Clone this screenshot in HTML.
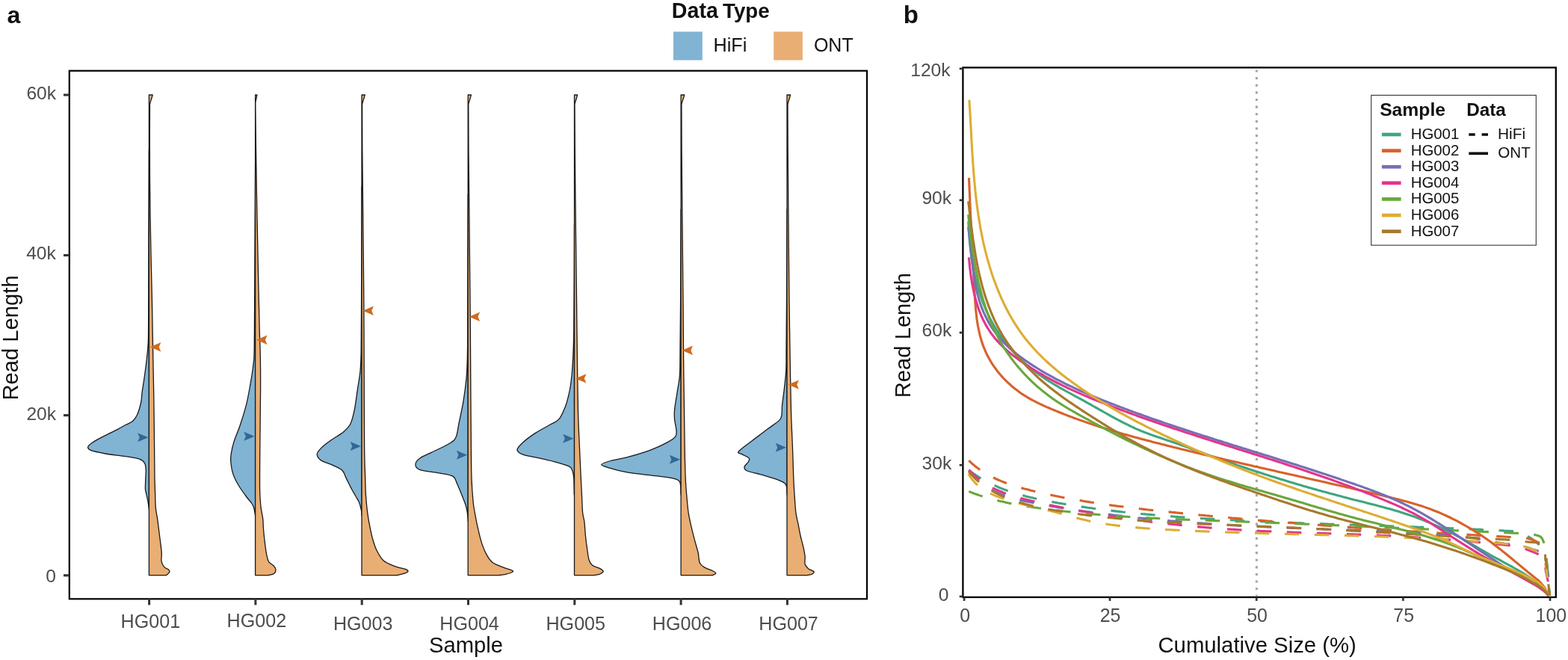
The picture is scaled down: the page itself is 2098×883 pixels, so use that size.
<!DOCTYPE html>
<html><head><meta charset="utf-8"><title>Read length distributions</title>
<style>html,body{margin:0;padding:0;background:#fff;overflow:hidden}svg{display:block}</style>
</head><body>
<svg width="2098" height="883" viewBox="0 0 2098 883" font-family="'Liberation Sans', Arial, Helvetica, sans-serif">
<rect x="0" y="0" width="2098" height="883" fill="#ffffff"/>
<text x="9.44" y="31.30" font-size="32.00" font-weight="bold" fill="#111">a</text>
<text x="898.84" y="24.00" font-size="28.60" font-weight="bold" fill="#111">Data</text>
<text x="967.12" y="24.00" font-size="27.70" font-weight="bold" fill="#111">Type</text>
<rect x="901" y="42.4" width="38.8" height="38.1" fill="#81B3D3"/>
<rect x="1035.2" y="42.4" width="38.7" height="38.1" fill="#E9AE73"/>
<text x="954.58" y="69.30" font-size="25.20" fill="#111">HiFi</text>
<text x="1088.88" y="69.30" font-size="25.00" fill="#111">ONT</text>
<path d="M199.4,200.0 C199.3,221.7 199.0,290.0 198.9,330.0 C198.8,370.0 198.8,417.9 198.6,440.0 C198.4,462.1 198.5,455.1 198.0,462.7 C197.5,470.3 196.6,477.9 195.7,485.5 C194.8,493.1 193.6,501.6 192.7,508.0 C191.8,514.4 190.9,519.0 190.2,524.0 C189.5,529.0 189.8,532.8 188.7,538.0 C187.6,543.2 185.4,550.8 183.5,555.0 C181.6,559.2 180.1,561.2 177.5,563.5 C174.9,565.8 171.3,566.7 168.0,568.5 C164.7,570.3 162.9,571.5 157.5,574.3 C152.1,577.1 141.5,582.2 135.8,585.2 C130.1,588.2 126.1,590.4 123.1,592.5 C120.1,594.6 118.0,596.2 117.7,597.9 C117.4,599.5 117.4,600.9 121.3,602.4 C125.2,603.9 133.3,605.6 141.2,607.0 C149.0,608.4 160.8,609.4 168.4,610.6 C176.0,611.8 182.3,612.7 186.5,614.2 C190.7,615.7 192.1,617.2 193.5,619.6 C194.9,622.0 195.0,625.3 195.2,628.7 C195.4,632.1 194.9,635.9 194.8,640.0 C194.7,644.1 194.3,650.3 194.4,653.6 C194.5,656.9 195.0,657.3 195.6,660.0 C196.2,662.7 197.2,666.7 197.8,670.0 C198.4,673.3 198.9,678.0 199.2,680.0 C199.5,682.0 199.4,681.7 199.4,682.0 Z" fill="#81B3D3" stroke="#1a1a1a" stroke-width="1.3" stroke-linejoin="round"/>
<path d="M199.4,127.0 L204.2,127.0 L203.8,128.5 L200.5,139.0 C200.5,145.8 200.3,161.5 200.3,180.0 C200.3,198.5 200.3,225.0 200.6,250.0 C200.8,275.0 201.3,305.0 201.8,330.0 C202.3,355.0 203.0,381.7 203.4,400.0 C203.8,418.3 203.8,425.0 204.1,440.0 C204.4,455.0 204.7,473.3 205.0,490.0 C205.3,506.7 205.7,523.3 205.9,540.0 C206.2,556.7 206.3,573.3 206.5,590.0 C206.7,606.7 206.8,628.3 207.0,640.0 C207.2,651.7 207.4,653.4 207.6,660.0 C207.8,666.6 207.8,673.5 208.3,679.4 C208.8,685.3 209.9,688.6 210.8,695.2 C211.7,701.8 212.9,711.7 213.8,719.0 C214.7,726.3 215.8,733.6 216.2,738.9 C216.6,744.2 215.4,747.5 216.0,750.8 C216.6,754.1 218.2,756.8 219.8,758.7 C221.4,760.6 224.3,760.9 225.5,762.0 C226.7,763.1 227.2,764.3 226.7,765.5 C226.2,766.7 223.4,768.8 222.7,769.4 L222.7,769.6 L199.4,769.6 Z" fill="#E9AE73" stroke="#1a1a1a" stroke-width="1.3" stroke-linejoin="round"/>
<path d="M198.4,585.3 L184.1,579.3 L186.7,585.3 L184.1,591.3 Z" fill="#306896"/>
<path d="M201.0,464.2 L215.3,458.0 L212.7,464.2 L215.3,470.4 Z" fill="#D06A1E"/>
<path d="M341.6,220.0 C341.5,238.3 341.2,290.0 341.0,330.0 C340.8,370.0 340.6,433.8 340.3,460.0 C340.0,486.2 339.9,478.1 339.0,487.2 C338.1,496.3 336.5,505.3 334.9,514.4 C333.3,523.5 331.8,532.5 329.5,541.6 C327.2,550.7 324.0,560.6 321.3,568.8 C318.6,577.0 315.1,584.2 313.1,590.6 C311.1,597.0 310.0,602.4 309.3,606.9 C308.6,611.4 308.4,613.3 308.8,617.8 C309.2,622.3 310.0,628.6 311.8,634.1 C313.6,639.6 316.7,645.2 319.9,650.5 C323.1,655.8 328.0,662.2 330.8,666.0 C333.6,669.8 335.0,670.8 336.5,673.0 C338.0,675.2 338.8,676.5 339.6,679.0 C340.4,681.5 341.0,686.2 341.3,688.0 C341.6,689.8 341.6,689.7 341.6,690.0 Z" fill="#81B3D3" stroke="#1a1a1a" stroke-width="1.3" stroke-linejoin="round"/>
<path d="M341.6,127.0 L343.9,127.0 L343.6,128.5 L341.8,137.0 C341.9,147.5 342.1,174.5 342.5,200.0 C342.9,225.5 343.4,260.0 344.0,290.0 C344.6,320.0 345.3,355.0 345.8,380.0 C346.3,405.0 346.8,423.3 347.2,440.0 C347.6,456.7 348.2,466.7 348.4,480.0 C348.6,493.3 348.7,500.0 348.6,520.0 C348.5,540.0 348.0,577.5 347.8,600.0 C347.6,622.5 347.4,642.1 347.6,655.1 C347.8,668.1 348.3,671.5 349.0,677.9 C349.7,684.3 351.1,688.7 351.7,693.7 C352.3,698.7 352.1,702.4 352.5,707.7 C352.9,713.0 353.6,719.4 354.3,725.3 C355.0,731.1 356.0,738.4 356.9,742.8 C357.8,747.2 358.1,749.3 359.6,751.6 C361.1,753.9 364.4,755.0 366.0,756.8 C367.6,758.5 368.9,760.3 369.0,762.1 C369.1,763.9 368.2,766.2 366.6,767.4 C365.0,768.6 360.8,769.1 359.6,769.5 L359.6,769.6 L341.6,769.6 Z" fill="#E9AE73" stroke="#1a1a1a" stroke-width="1.3" stroke-linejoin="round"/>
<path d="M340.6,583.8 L326.3,577.8 L328.9,583.8 L326.3,589.8 Z" fill="#306896"/>
<path d="M343.2,454.8 L357.5,448.6 L354.9,454.8 L357.5,461.0 Z" fill="#D06A1E"/>
<path d="M484.0,250.0 C483.9,275.0 483.7,363.3 483.6,400.0 C483.5,436.7 483.5,453.9 483.2,470.0 C482.9,486.1 482.8,487.8 482.0,496.3 C481.2,504.8 479.7,512.2 478.4,520.8 C477.1,529.4 475.9,540.3 474.3,548.0 C472.7,555.7 471.4,562.0 468.9,567.0 C466.4,572.0 463.7,574.3 459.4,577.9 C455.1,581.5 448.1,585.2 443.1,588.8 C438.1,592.4 432.6,596.4 429.5,599.6 C426.4,602.8 424.2,605.1 424.2,607.8 C424.2,610.5 425.9,613.4 429.5,615.9 C433.1,618.4 441.1,620.4 445.8,622.7 C450.6,625.0 455.1,626.5 458.0,629.5 C460.9,632.5 461.4,636.3 463.5,640.4 C465.6,644.5 468.2,650.1 470.3,654.0 C472.4,657.9 474.3,661.0 476.0,664.0 C477.7,667.0 479.3,669.0 480.5,672.0 C481.7,675.0 482.7,679.3 483.3,682.0 C483.9,684.7 483.9,686.7 484.0,688.0 C484.1,689.3 484.0,689.7 484.0,690.0 Z" fill="#81B3D3" stroke="#1a1a1a" stroke-width="1.3" stroke-linejoin="round"/>
<path d="M484.0,127.0 L488.3,127.0 L487.8,128.5 L484.6,139.0 C484.6,149.2 484.6,173.2 484.8,200.0 C485.0,226.8 485.5,266.7 485.8,300.0 C486.1,333.3 486.6,366.7 486.8,400.0 C487.0,433.3 487.1,466.7 487.2,500.0 C487.3,533.3 487.4,576.7 487.6,600.0 C487.9,623.3 488.4,629.5 488.7,640.0 C489.0,650.5 489.0,655.3 489.5,662.9 C490.0,670.5 490.8,678.9 491.7,685.8 C492.6,692.7 493.6,698.3 494.8,704.2 C496.0,710.1 497.1,715.7 498.6,721.0 C500.1,726.3 501.6,731.4 504.0,736.2 C506.4,741.0 509.0,746.4 513.1,750.0 C517.2,753.6 523.5,755.7 528.4,757.6 C533.2,759.5 539.3,760.3 542.2,761.4 C545.1,762.5 546.0,763.1 546.0,764.0 C546.0,764.9 544.6,765.9 542.2,766.8 C539.8,767.7 533.3,769.0 531.5,769.5 L531.5,769.6 L484.0,769.6 Z" fill="#E9AE73" stroke="#1a1a1a" stroke-width="1.3" stroke-linejoin="round"/>
<path d="M483.0,596.9 L468.7,590.9 L471.3,596.9 L468.7,602.9 Z" fill="#306896"/>
<path d="M485.6,415.8 L499.9,409.6 L497.3,415.8 L499.9,422.0 Z" fill="#D06A1E"/>
<path d="M626.2,260.0 C626.1,283.3 625.9,365.0 625.8,400.0 C625.7,435.0 625.8,452.9 625.5,470.0 C625.2,487.1 625.2,491.5 624.3,502.6 C623.4,513.7 621.7,526.2 620.0,536.6 C618.3,547.0 615.9,556.9 614.3,564.9 C612.6,572.9 612.2,580.0 610.1,584.7 C608.0,589.4 606.8,589.9 601.6,593.2 C596.4,596.5 585.6,601.2 579.0,604.5 C572.4,607.8 565.9,610.2 562.0,613.0 C558.1,615.8 555.9,618.9 555.9,621.5 C555.9,624.1 556.7,626.7 562.0,628.6 C567.3,630.5 580.2,631.4 587.5,632.8 C594.8,634.2 601.9,634.7 605.9,637.1 C609.9,639.5 609.4,642.5 611.5,647.0 C613.6,651.5 616.8,659.5 618.6,664.0 C620.4,668.5 621.4,670.7 622.5,674.0 C623.6,677.3 624.4,680.5 625.0,684.0 C625.6,687.5 626.0,692.8 626.2,695.0 C626.4,697.2 626.2,696.7 626.2,697.0 Z" fill="#81B3D3" stroke="#1a1a1a" stroke-width="1.3" stroke-linejoin="round"/>
<path d="M626.2,127.0 L630.4,127.0 L630.0,128.5 L626.8,139.0 C626.8,149.2 626.8,173.2 627.0,200.0 C627.2,226.8 627.7,266.7 628.0,300.0 C628.3,333.3 628.7,370.0 629.0,400.0 C629.3,430.0 629.4,446.7 629.6,480.0 C629.8,513.3 630.2,573.3 630.4,600.0 C630.6,626.7 630.6,628.2 631.0,640.0 C631.4,651.8 632.3,662.9 633.0,670.5 C633.7,678.1 634.1,679.4 635.3,685.8 C636.4,692.2 638.2,701.6 639.9,708.7 C641.5,715.8 643.2,722.7 645.2,728.6 C647.2,734.5 649.7,739.8 652.1,743.9 C654.5,748.0 656.1,750.5 659.7,753.0 C663.3,755.5 669.3,757.4 673.5,759.1 C677.7,760.8 682.9,762.0 684.9,763.0 C686.9,764.0 687.1,764.3 685.7,765.2 C684.3,766.1 679.5,767.6 676.5,768.3 C673.5,769.0 669.4,769.3 668.0,769.5 L668.0,769.6 L626.2,769.6 Z" fill="#E9AE73" stroke="#1a1a1a" stroke-width="1.3" stroke-linejoin="round"/>
<path d="M625.2,608.8 L610.9,602.8 L613.5,608.8 L610.9,614.8 Z" fill="#306896"/>
<path d="M627.8,423.7 L642.1,417.5 L639.5,423.7 L642.1,429.9 Z" fill="#D06A1E"/>
<path d="M768.5,300.0 C768.4,323.3 768.2,408.3 767.8,440.0 C767.4,471.7 766.7,477.5 766.0,490.0 C765.3,502.5 764.4,508.3 763.5,515.0 C762.6,521.7 761.7,525.2 760.5,530.0 C759.3,534.8 758.6,538.6 756.5,543.7 C754.4,548.8 751.3,556.7 748.0,560.7 C744.7,564.7 741.9,564.6 736.7,567.7 C731.5,570.8 722.9,575.1 716.8,579.1 C710.6,583.1 703.9,588.0 699.8,591.8 C695.7,595.6 692.0,599.0 692.0,601.7 C692.0,604.4 694.7,606.3 699.8,608.2 C704.9,610.1 714.9,611.4 722.5,613.1 C730.1,614.9 738.6,616.8 745.2,618.7 C751.8,620.6 758.7,622.3 762.2,624.4 C765.7,626.5 765.5,628.9 766.4,631.5 C767.3,634.1 767.5,635.2 767.8,640.0 C768.1,644.8 768.2,656.3 768.3,660.0 C768.4,663.7 768.5,661.7 768.5,662.0 Z" fill="#81B3D3" stroke="#1a1a1a" stroke-width="1.3" stroke-linejoin="round"/>
<path d="M768.5,127.0 L772.6,127.0 L772.2,128.5 L769.0,139.0 C769.0,149.2 769.1,173.2 769.3,200.0 C769.5,226.8 769.9,266.7 770.3,300.0 C770.7,333.3 771.2,371.7 771.5,400.0 C771.8,428.3 772.0,445.0 772.3,470.0 C772.6,495.0 773.0,528.3 773.5,550.0 C774.0,571.7 774.9,585.0 775.5,600.0 C776.1,615.0 776.8,629.5 777.3,640.0 C777.8,650.5 778.1,655.4 778.5,663.0 C778.9,670.6 779.0,680.0 779.6,685.9 C780.2,691.8 781.3,693.1 781.9,698.2 C782.5,703.3 782.8,710.4 783.4,716.5 C784.0,722.6 784.9,729.5 785.7,734.9 C786.5,740.3 786.9,745.1 788.0,748.7 C789.1,752.3 790.1,754.3 792.6,756.3 C795.1,758.3 800.9,759.5 803.3,760.9 C805.7,762.3 807.5,763.5 807.2,764.7 C807.0,765.9 803.8,767.5 801.8,768.3 C799.8,769.1 796.1,769.4 795.0,769.6 L795.0,769.6 L768.5,769.6 Z" fill="#E9AE73" stroke="#1a1a1a" stroke-width="1.3" stroke-linejoin="round"/>
<path d="M767.5,586.7 L753.2,580.7 L755.8,586.7 L753.2,592.7 Z" fill="#306896"/>
<path d="M770.1,506.4 L784.4,500.2 L781.8,506.4 L784.4,512.6 Z" fill="#D06A1E"/>
<path d="M911.1,280.0 C911.0,300.0 910.8,368.3 910.6,400.0 C910.4,431.7 910.2,452.9 910.0,470.0 C909.8,487.1 910.1,493.4 909.4,502.6 C908.7,511.8 907.1,517.7 906.0,525.3 C904.9,532.9 903.2,542.0 902.6,548.0 C902.0,554.0 902.2,557.0 902.6,561.5 C903.0,566.0 904.7,571.3 904.9,575.1 C905.1,578.9 905.8,581.4 903.7,584.2 C901.6,587.0 898.1,589.1 892.4,592.1 C886.7,595.1 878.4,599.1 869.7,602.3 C861.0,605.5 849.3,608.9 840.3,611.4 C831.2,613.9 821.3,615.3 815.4,617.0 C809.5,618.7 804.7,620.1 804.7,621.6 C804.7,623.1 809.5,624.3 815.4,626.1 C821.3,627.9 830.5,630.5 840.3,632.2 C850.1,633.9 864.5,635.0 874.3,636.3 C884.1,637.5 893.6,638.6 899.2,639.7 C904.9,640.8 906.3,641.6 908.2,643.1 C910.1,644.6 910.0,645.9 910.5,648.7 C911.0,651.5 910.9,657.8 911.0,660.0 C911.1,662.2 911.1,661.7 911.1,662.0 Z" fill="#81B3D3" stroke="#1a1a1a" stroke-width="1.3" stroke-linejoin="round"/>
<path d="M911.1,127.0 L915.8,127.0 L915.4,128.5 L911.9,139.0 C911.9,149.2 911.9,173.2 912.1,200.0 C912.3,226.8 912.7,266.7 913.0,300.0 C913.3,333.3 913.7,370.0 914.0,400.0 C914.3,430.0 914.2,446.7 914.6,480.0 C915.0,513.3 915.8,573.3 916.2,600.0 C916.6,626.7 916.8,629.5 917.2,640.0 C917.6,650.5 918.1,655.4 918.8,663.0 C919.4,670.6 920.1,679.0 921.1,685.9 C922.1,692.8 923.5,698.2 924.9,704.3 C926.3,710.4 928.0,716.8 929.5,722.7 C931.0,728.6 933.0,734.4 934.1,739.5 C935.2,744.6 934.9,750.0 936.4,753.3 C937.9,756.6 940.4,757.6 943.3,759.4 C946.2,761.2 951.6,762.7 954.0,764.0 C956.4,765.3 957.8,766.1 957.8,767.0 C957.8,767.9 954.6,768.9 954.0,769.3 L954.0,769.6 L911.1,769.6 Z" fill="#E9AE73" stroke="#1a1a1a" stroke-width="1.3" stroke-linejoin="round"/>
<path d="M910.1,614.8 L895.8,608.8 L898.4,614.8 L895.8,620.8 Z" fill="#306896"/>
<path d="M912.7,468.7 L927.0,462.5 L924.4,468.7 L927.0,474.9 Z" fill="#D06A1E"/>
<path d="M1053.0,280.0 C1052.9,300.0 1052.7,368.3 1052.5,400.0 C1052.3,431.7 1052.1,454.0 1052.0,470.0 C1051.9,486.0 1052.2,487.3 1051.7,496.0 C1051.2,504.7 1050.0,514.2 1049.1,522.0 C1048.2,529.8 1047.0,537.2 1046.5,542.8 C1046.0,548.4 1046.5,552.5 1045.8,555.8 C1045.1,559.1 1045.7,559.3 1042.6,562.4 C1039.5,565.5 1033.1,569.5 1027.0,574.1 C1020.9,578.7 1012.7,584.7 1006.2,589.7 C999.8,594.7 990.5,601.0 988.3,604.0 C986.1,607.0 990.9,606.4 993.2,607.9 C995.5,609.4 1001.0,611.4 1002.3,613.1 C1003.6,614.8 1002.1,616.3 1001.0,618.3 C999.9,620.2 996.1,622.8 995.9,624.8 C995.7,626.8 995.8,628.3 999.7,630.0 C1003.6,631.7 1012.5,633.2 1019.2,635.2 C1025.9,637.2 1034.8,639.8 1040.0,641.7 C1045.2,643.7 1048.3,645.2 1050.4,646.9 C1052.5,648.6 1052.1,649.9 1052.5,652.1 C1052.9,654.3 1052.8,658.4 1052.9,660.0 C1053.0,661.6 1053.0,661.7 1053.0,662.0 Z" fill="#81B3D3" stroke="#1a1a1a" stroke-width="1.3" stroke-linejoin="round"/>
<path d="M1053.0,127.0 L1057.6,127.0 L1057.2,128.5 L1054.0,139.0 C1054.0,149.2 1054.0,173.2 1054.2,200.0 C1054.4,226.8 1054.7,266.7 1055.0,300.0 C1055.3,333.3 1055.7,371.7 1056.0,400.0 C1056.3,428.3 1056.6,445.0 1057.0,470.0 C1057.4,495.0 1057.9,528.3 1058.5,550.0 C1059.1,571.7 1060.0,585.0 1060.5,600.0 C1061.0,615.0 1061.4,629.5 1061.8,640.0 C1062.2,650.5 1062.6,655.4 1063.1,663.0 C1063.6,670.6 1064.1,679.5 1064.9,685.9 C1065.7,692.3 1067.0,696.1 1068.0,701.2 C1069.0,706.3 1069.9,711.4 1071.0,716.5 C1072.1,721.6 1073.8,727.2 1074.8,731.8 C1075.8,736.4 1076.7,740.3 1077.1,744.1 C1077.5,747.9 1076.3,752.0 1077.1,754.8 C1077.9,757.6 1079.7,759.2 1081.7,760.9 C1083.7,762.5 1088.2,763.5 1089.0,764.7 C1089.8,765.9 1087.8,767.5 1086.3,768.3 C1084.8,769.1 1081.0,769.4 1080.0,769.6 L1080.0,769.6 L1053.0,769.6 Z" fill="#E9AE73" stroke="#1a1a1a" stroke-width="1.3" stroke-linejoin="round"/>
<path d="M1052.0,598.8 L1037.7,592.8 L1040.3,598.8 L1037.7,604.8 Z" fill="#306896"/>
<path d="M1054.6,514.6 L1068.9,508.4 L1066.3,514.6 L1068.9,520.8 Z" fill="#D06A1E"/>
<rect x="92.8" y="94.7" width="1067.2" height="706.6" fill="none" stroke="#000" stroke-width="2.2"/>
<line x1="85" y1="127.0" x2="92.8" y2="127.0" stroke="#333" stroke-width="3.1"/>
<text x="35.39" y="132.90" font-size="24.60" fill="#4D4D4D">60k</text>
<line x1="85" y1="341.5" x2="92.8" y2="341.5" stroke="#333" stroke-width="3.1"/>
<text x="35.19" y="347.00" font-size="24.60" fill="#4D4D4D">40k</text>
<line x1="85" y1="555.6" x2="92.8" y2="555.6" stroke="#333" stroke-width="3.1"/>
<text x="35.39" y="561.50" font-size="24.60" fill="#4D4D4D">20k</text>
<line x1="85" y1="769.8" x2="92.8" y2="769.8" stroke="#333" stroke-width="3.1"/>
<text x="61.23" y="778.50" font-size="24.60" fill="#4D4D4D">0</text>
<line x1="199.6" y1="801" x2="199.6" y2="809.4" stroke="#333" stroke-width="3.0"/>
<text x="161.59" y="839.70" font-size="25.10" fill="#4D4D4D">HG001</text>
<line x1="341.9" y1="801" x2="341.9" y2="809.4" stroke="#333" stroke-width="3.0"/>
<text x="303.59" y="839.30" font-size="25.10" fill="#4D4D4D">HG002</text>
<line x1="484.2" y1="801" x2="484.2" y2="809.4" stroke="#333" stroke-width="3.0"/>
<text x="445.89" y="842.50" font-size="25.10" fill="#4D4D4D">HG003</text>
<line x1="626.5" y1="801" x2="626.5" y2="809.4" stroke="#333" stroke-width="3.0"/>
<text x="588.29" y="842.50" font-size="25.10" fill="#4D4D4D">HG004</text>
<line x1="768.8" y1="801" x2="768.8" y2="809.4" stroke="#333" stroke-width="3.0"/>
<text x="730.49" y="842.60" font-size="25.10" fill="#4D4D4D">HG005</text>
<line x1="911.1" y1="801" x2="911.1" y2="809.4" stroke="#333" stroke-width="3.0"/>
<text x="872.79" y="842.60" font-size="25.10" fill="#4D4D4D">HG006</text>
<line x1="1053.4" y1="801" x2="1053.4" y2="809.4" stroke="#333" stroke-width="3.0"/>
<text x="1015.29" y="842.70" font-size="25.10" fill="#4D4D4D">HG007</text>
<text x="573.99" y="873.30" font-size="29.20" fill="#111">Sample</text>
<text transform="translate(24.4,535.54) rotate(-90)" font-size="29.2" fill="#111">Read Length</text>
<text x="1208.76" y="30.90" font-size="33.00" font-weight="bold" fill="#111">b</text>
<line x1="1681.4" y1="93.5" x2="1681.4" y2="797.5" stroke="#A6A6A6" stroke-width="3.1" stroke-dasharray="3.1 6.52"/>
<path d="M1296.3,629.0 L1298.3,630.5 L1300.3,632.0 L1302.3,633.5 L1304.4,634.9 L1306.4,636.2 L1308.5,637.6 L1310.6,638.9 L1312.7,640.2 L1314.8,641.4 L1317.0,642.6 L1319.1,643.8 L1321.3,644.9 L1323.5,646.1 L1325.7,647.1 L1327.9,648.2 L1330.1,649.2 L1332.3,650.2 L1334.6,651.2 L1336.8,652.2 L1339.1,653.1 L1341.4,654.0 L1343.7,654.9 L1346.0,655.7 L1348.3,656.6 L1350.6,657.4 L1353.0,658.2 L1355.3,658.9 L1357.7,659.7 L1360.1,660.4 L1362.4,661.1 L1364.8,661.8 L1367.2,662.5 L1369.6,663.1 L1372.0,663.8 L1374.4,664.4 L1376.8,665.0 L1379.2,665.6 L1381.7,666.1 L1384.1,666.7 L1386.5,667.2 L1389.0,667.8 L1391.4,668.3 L1393.9,668.8 L1396.3,669.3 L1398.8,669.8 L1401.2,670.3 L1403.7,670.7 L1406.2,671.2 L1408.6,671.6 L1411.1,672.1 L1413.6,672.5 L1416.0,673.0 L1418.5,673.4 L1421.0,673.8 L1423.4,674.2 L1425.9,674.6 L1428.4,675.0 L1430.8,675.4 L1433.3,675.8 L1435.8,676.2 L1438.3,676.6 L1440.7,677.0 L1443.2,677.4 L1445.7,677.7 L1448.1,678.1 L1450.6,678.4 L1453.1,678.8 L1455.6,679.2 L1458.0,679.5 L1460.5,679.8 L1463.0,680.2 L1465.5,680.5 L1467.9,680.8 L1470.4,681.2 L1472.9,681.5 L1475.3,681.8 L1477.8,682.1 L1480.3,682.4 L1482.8,682.7 L1485.3,683.0 L1487.7,683.3 L1490.2,683.6 L1492.7,683.9 L1495.2,684.2 L1497.6,684.4 L1500.1,684.7 L1502.6,685.0 L1505.1,685.2 L1507.5,685.5 L1510.0,685.8 L1512.5,686.0 L1515.0,686.3 L1517.5,686.5 L1519.9,686.8 L1522.4,687.0 L1524.9,687.2 L1527.4,687.5 L1529.9,687.7 L1532.3,687.9 L1534.8,688.2 L1537.3,688.4 L1539.8,688.6 L1542.3,688.8 L1544.7,689.0 L1547.2,689.2 L1549.7,689.5 L1552.2,689.7 L1554.7,689.9 L1557.2,690.1 L1559.6,690.3 L1562.1,690.4 L1564.6,690.6 L1567.1,690.8 L1569.6,691.0 L1572.0,691.2 L1574.5,691.4 L1577.0,691.6 L1579.5,691.7 L1582.0,691.9 L1584.5,692.1 L1587.0,692.2 L1589.4,692.4 L1591.9,692.6 L1594.4,692.7 L1596.9,692.9 L1599.4,693.1 L1601.9,693.2 L1604.3,693.4 L1606.8,693.5 L1609.3,693.7 L1611.8,693.8 L1614.3,694.0 L1616.8,694.1 L1619.3,694.3 L1621.7,694.4 L1624.2,694.6 L1626.7,694.7 L1629.2,694.8 L1631.7,695.0 L1634.2,695.1 L1636.7,695.3 L1639.1,695.4 L1641.6,695.5 L1644.1,695.7 L1646.6,695.8 L1649.1,695.9 L1651.6,696.0 L1654.1,696.2 L1656.6,696.3 L1659.0,696.4 L1661.5,696.5 L1664.0,696.7 L1666.5,696.8 L1669.0,696.9 L1671.5,697.0 L1674.0,697.1 L1676.5,697.2 L1678.9,697.4 L1681.4,697.5 L1683.9,697.6 L1686.4,697.7 L1688.9,697.8 L1691.4,697.9 L1693.9,698.0 L1696.4,698.1 L1698.9,698.2 L1701.3,698.3 L1703.8,698.4 L1706.3,698.5 L1708.8,698.6 L1711.3,698.7 L1713.8,698.8 L1716.3,698.9 L1718.8,699.0 L1721.3,699.1 L1723.7,699.2 L1726.2,699.3 L1728.7,699.4 L1731.2,699.5 L1733.7,699.6 L1736.2,699.7 L1738.7,699.8 L1741.2,699.9 L1743.7,700.0 L1746.2,700.1 L1748.6,700.2 L1751.1,700.2 L1753.6,700.3 L1756.1,700.4 L1758.6,700.5 L1761.1,700.6 L1763.6,700.7 L1766.1,700.8 L1768.6,700.9 L1771.1,700.9 L1773.5,701.0 L1776.0,701.1 L1778.5,701.2 L1781.0,701.3 L1783.5,701.4 L1786.0,701.4 L1788.5,701.5 L1791.0,701.6 L1793.5,701.7 L1796.0,701.8 L1798.4,701.9 L1800.9,701.9 L1803.4,702.0 L1805.9,702.1 L1808.4,702.2 L1810.9,702.3 L1813.4,702.3 L1815.9,702.4 L1818.4,702.5 L1820.9,702.6 L1823.4,702.7 L1825.8,702.8 L1828.3,702.8 L1830.8,702.9 L1833.3,703.0 L1835.8,703.1 L1838.3,703.2 L1840.8,703.2 L1843.3,703.3 L1845.8,703.4 L1848.3,703.5 L1850.8,703.6 L1853.2,703.6 L1855.7,703.7 L1858.2,703.8 L1860.7,703.9 L1863.2,704.0 L1865.7,704.0 L1868.2,704.1 L1870.7,704.2 L1873.2,704.3 L1875.7,704.4 L1878.2,704.5 L1880.6,704.5 L1883.1,704.6 L1885.6,704.7 L1888.1,704.8 L1890.6,704.9 L1893.1,705.0 L1895.6,705.1 L1898.1,705.2 L1900.6,705.2 L1903.1,705.3 L1905.5,705.4 L1908.0,705.5 L1910.5,705.6 L1913.0,705.7 L1915.5,705.8 L1918.0,705.9 L1920.5,706.0 L1923.0,706.1 L1925.5,706.2 L1928.0,706.3 L1930.5,706.3 L1932.9,706.4 L1935.4,706.5 L1937.9,706.6 L1940.4,706.7 L1942.9,706.8 L1945.4,706.9 L1947.9,707.0 L1950.4,707.1 L1952.9,707.2 L1955.3,707.4 L1957.8,707.5 L1960.3,707.6 L1962.8,707.7 L1965.3,707.8 L1967.8,707.9 L1970.3,708.0 L1972.8,708.1 L1975.3,708.2 L1977.8,708.3 L1980.2,708.4 L1982.7,708.6 L1985.2,708.7 L1987.7,708.8 L1990.2,708.9 L1992.7,709.0 L1995.2,709.2 L1997.7,709.3 L2000.1,709.4 L2002.6,709.5 L2005.1,709.7 L2007.6,709.8 L2010.1,709.9 L2012.6,710.1 L2015.1,710.2 L2017.6,710.3 L2020.1,710.5 L2022.5,710.6 L2025.0,710.7 L2027.5,710.9 L2030.0,711.0 L2031.5,711.5 L2033.0,712.1 L2034.5,712.6 L2035.9,713.3 L2037.4,713.9 L2038.8,714.6 L2040.2,715.3 L2041.6,716.0 L2042.9,716.7 L2044.2,717.5 L2045.5,718.3 L2046.8,719.1 L2048.1,719.9 L2049.3,720.7 L2050.5,721.6 L2051.8,722.5 L2053.0,723.4 L2054.3,724.4 L2055.6,725.4 L2056.8,726.5 L2058.0,727.6 L2059.2,728.7 L2060.3,729.9 L2061.3,731.0 L2062.2,732.2 L2063.0,733.5 L2063.7,734.7 L2064.2,736.0 L2064.8,737.3 L2065.3,738.7 L2065.8,740.1 L2066.2,741.5 L2066.7,743.0 L2067.1,744.5 L2067.5,746.1 L2067.8,747.6 L2068.2,749.2 L2068.5,750.8 L2068.8,752.3 L2069.1,753.9 L2069.4,755.5 L2069.6,757.0 L2069.8,758.6 L2070.0,760.1 L2070.2,761.6 L2070.4,763.1 L2070.6,764.7 L2070.8,766.2 L2071.0,767.7 L2071.1,769.2 L2071.3,770.8 L2071.5,772.3 L2071.6,773.8 L2071.8,775.4 L2071.9,776.9 L2072.1,778.4 L2072.2,780.0 L2072.3,781.5 L2072.5,783.0 L2072.6,784.6 L2072.7,786.1 L2072.8,787.7 L2072.8,789.2 L2072.9,790.8 L2072.9,792.3 L2073.0,793.9 L2073.0,795.4 L2073.0,797.0" fill="none" stroke="#3FA67F" stroke-width="3.1" stroke-dasharray="19.5 20.5"/>
<path d="M1296.3,616.1 L1298.1,617.9 L1300.0,619.6 L1301.9,621.3 L1303.9,622.9 L1305.8,624.5 L1307.8,626.0 L1309.8,627.5 L1311.9,628.9 L1313.9,630.3 L1316.0,631.6 L1318.1,632.9 L1320.2,634.2 L1322.3,635.4 L1324.5,636.6 L1326.7,637.7 L1328.9,638.8 L1331.1,639.9 L1333.3,641.0 L1335.6,642.0 L1337.8,642.9 L1340.1,643.9 L1342.4,644.8 L1344.7,645.7 L1347.0,646.5 L1349.3,647.4 L1351.7,648.2 L1354.0,649.0 L1356.4,649.7 L1358.8,650.5 L1361.1,651.2 L1363.5,651.9 L1365.9,652.6 L1368.3,653.2 L1370.7,653.9 L1373.2,654.5 L1375.6,655.1 L1378.0,655.8 L1380.4,656.4 L1382.9,656.9 L1385.3,657.5 L1387.7,658.1 L1390.2,658.7 L1392.6,659.2 L1395.0,659.8 L1397.5,660.3 L1399.9,660.9 L1402.4,661.4 L1404.8,661.9 L1407.3,662.4 L1409.7,662.9 L1412.2,663.4 L1414.6,663.9 L1417.1,664.4 L1419.5,664.9 L1422.0,665.4 L1424.4,665.9 L1426.9,666.3 L1429.4,666.8 L1431.8,667.2 L1434.3,667.7 L1436.7,668.1 L1439.2,668.6 L1441.7,669.0 L1444.1,669.4 L1446.6,669.8 L1449.1,670.3 L1451.5,670.7 L1454.0,671.1 L1456.5,671.5 L1459.0,671.9 L1461.4,672.2 L1463.9,672.6 L1466.4,673.0 L1468.9,673.4 L1471.3,673.7 L1473.8,674.1 L1476.3,674.5 L1478.8,674.8 L1481.3,675.2 L1483.8,675.5 L1486.2,675.9 L1488.7,676.2 L1491.2,676.5 L1493.7,676.9 L1496.2,677.2 L1498.7,677.5 L1501.2,677.8 L1503.6,678.1 L1506.1,678.4 L1508.6,678.8 L1511.1,679.1 L1513.6,679.4 L1516.1,679.7 L1518.6,680.0 L1521.1,680.3 L1523.6,680.5 L1526.1,680.8 L1528.5,681.1 L1531.0,681.4 L1533.5,681.7 L1536.0,682.0 L1538.5,682.2 L1541.0,682.5 L1543.5,682.8 L1546.0,683.0 L1548.5,683.3 L1551.0,683.6 L1553.5,683.8 L1556.0,684.1 L1558.5,684.4 L1561.0,684.6 L1563.5,684.9 L1566.0,685.1 L1568.5,685.4 L1571.0,685.6 L1573.4,685.9 L1575.9,686.1 L1578.4,686.4 L1580.9,686.6 L1583.4,686.9 L1585.9,687.1 L1588.4,687.4 L1590.9,687.6 L1593.4,687.9 L1595.9,688.1 L1598.4,688.3 L1600.9,688.6 L1603.4,688.8 L1605.9,689.1 L1608.4,689.3 L1610.9,689.5 L1613.4,689.8 L1615.8,690.0 L1618.3,690.2 L1620.8,690.5 L1623.3,690.7 L1625.8,690.9 L1628.3,691.2 L1630.8,691.4 L1633.3,691.6 L1635.8,691.8 L1638.3,692.1 L1640.8,692.3 L1643.3,692.5 L1645.8,692.7 L1648.3,693.0 L1650.7,693.2 L1653.2,693.4 L1655.7,693.6 L1658.2,693.8 L1660.7,694.1 L1663.2,694.3 L1665.7,694.5 L1668.2,694.7 L1670.7,694.9 L1673.2,695.1 L1675.7,695.4 L1678.2,695.6 L1680.6,695.8 L1683.1,696.0 L1685.6,696.2 L1688.1,696.4 L1690.6,696.6 L1693.1,696.8 L1695.6,697.0 L1698.1,697.2 L1700.6,697.4 L1703.1,697.6 L1705.6,697.8 L1708.1,698.1 L1710.5,698.3 L1713.0,698.5 L1715.5,698.7 L1718.0,698.9 L1720.5,699.1 L1723.0,699.3 L1725.5,699.4 L1728.0,699.6 L1730.5,699.8 L1733.0,700.0 L1735.5,700.2 L1738.0,700.4 L1740.4,700.6 L1742.9,700.8 L1745.4,701.0 L1747.9,701.2 L1750.4,701.4 L1752.9,701.6 L1755.4,701.8 L1757.9,701.9 L1760.4,702.1 L1762.9,702.3 L1765.4,702.5 L1767.9,702.7 L1770.3,702.9 L1772.8,703.1 L1775.3,703.2 L1777.8,703.4 L1780.3,703.6 L1782.8,703.8 L1785.3,704.0 L1787.8,704.1 L1790.3,704.3 L1792.8,704.5 L1795.3,704.7 L1797.8,704.9 L1800.3,705.0 L1802.7,705.2 L1805.2,705.4 L1807.7,705.6 L1810.2,705.7 L1812.7,705.9 L1815.2,706.1 L1817.7,706.2 L1820.2,706.4 L1822.7,706.6 L1825.2,706.8 L1827.7,706.9 L1830.2,707.1 L1832.7,707.3 L1835.2,707.4 L1837.6,707.6 L1840.1,707.8 L1842.6,707.9 L1845.1,708.1 L1847.6,708.3 L1850.1,708.4 L1852.6,708.6 L1855.1,708.7 L1857.6,708.9 L1860.1,709.1 L1862.6,709.2 L1865.1,709.4 L1867.6,709.6 L1870.1,709.7 L1872.6,709.9 L1875.1,710.0 L1877.6,710.2 L1880.0,710.3 L1882.5,710.5 L1885.0,710.7 L1887.5,710.8 L1890.0,711.0 L1892.5,711.1 L1895.0,711.3 L1897.5,711.4 L1900.0,711.6 L1902.5,711.7 L1905.0,711.9 L1907.5,712.0 L1910.0,712.2 L1912.5,712.3 L1915.0,712.5 L1917.5,712.7 L1920.0,712.8 L1922.5,712.9 L1925.0,713.1 L1927.5,713.2 L1930.0,713.4 L1932.5,713.5 L1935.0,713.7 L1937.5,713.8 L1940.0,714.0 L1942.5,714.1 L1945.0,714.3 L1947.5,714.4 L1950.0,714.6 L1952.5,714.7 L1955.0,714.8 L1957.4,715.0 L1959.9,715.1 L1962.4,715.3 L1964.9,715.4 L1967.4,715.6 L1969.9,715.7 L1972.4,715.8 L1974.9,716.0 L1977.4,716.1 L1979.9,716.3 L1982.4,716.4 L1985.0,716.5 L1987.5,716.7 L1990.0,716.8 L1992.5,717.0 L1995.0,717.1 L1997.5,717.2 L2000.0,717.4 L2002.5,717.5 L2005.0,717.6 L2007.5,717.8 L2010.0,717.9 L2012.5,718.0 L2015.0,718.2 L2017.5,718.3 L2020.0,718.5 L2022.5,718.6 L2025.0,718.7 L2027.5,718.9 L2030.0,719.0 L2031.8,719.0 L2033.6,719.1 L2035.4,719.2 L2037.1,719.4 L2038.8,719.5 L2040.4,719.8 L2042.0,720.0 L2043.6,720.3 L2045.1,720.7 L2046.6,721.0 L2048.0,721.4 L2049.3,721.8 L2050.6,722.3 L2051.9,722.7 L2053.1,723.2 L2054.2,723.7 L2055.3,724.2 L2056.4,724.8 L2057.5,725.7 L2058.6,726.7 L2059.6,727.9 L2060.6,729.2 L2061.5,730.6 L2062.4,732.0 L2063.3,733.5 L2064.1,735.0 L2064.7,736.6 L2065.3,738.0 L2065.8,739.5 L2066.2,740.8 L2066.6,742.2 L2067.0,743.7 L2067.3,745.1 L2067.7,746.6 L2068.0,748.0 L2068.3,749.5 L2068.5,751.0 L2068.8,752.6 L2069.0,754.1 L2069.3,755.6 L2069.5,757.2 L2069.7,758.7 L2069.9,760.3 L2070.1,761.9 L2070.3,763.4 L2070.5,765.0 L2070.6,766.5 L2070.8,768.0 L2071.0,769.6 L2071.1,771.1 L2071.3,772.6 L2071.4,774.1 L2071.6,775.6 L2071.7,777.2 L2071.8,778.7 L2072.0,780.2 L2072.1,781.7 L2072.2,783.2 L2072.3,784.8 L2072.4,786.3 L2072.5,787.8 L2072.6,789.4 L2072.7,790.9 L2072.8,792.4 L2072.9,793.9 L2072.9,795.5 L2073.0,797.0" fill="none" stroke="#D8622A" stroke-width="3.1" stroke-dasharray="19.5 20.5"/>
<path d="M1296.3,630.0 L1297.9,632.1 L1299.5,634.0 L1301.2,635.9 L1302.9,637.8 L1304.6,639.6 L1306.4,641.3 L1308.3,642.9 L1310.2,644.5 L1312.1,646.1 L1314.0,647.5 L1316.0,649.0 L1318.1,650.3 L1320.1,651.7 L1322.2,652.9 L1324.4,654.1 L1326.5,655.3 L1328.7,656.4 L1330.9,657.5 L1333.2,658.5 L1335.4,659.5 L1337.7,660.5 L1340.1,661.4 L1342.4,662.3 L1344.7,663.1 L1347.1,663.9 L1349.5,664.7 L1351.9,665.4 L1354.4,666.2 L1356.8,666.8 L1359.2,667.5 L1361.7,668.1 L1364.2,668.8 L1366.7,669.4 L1369.1,669.9 L1371.6,670.5 L1374.1,671.0 L1376.6,671.6 L1379.1,672.1 L1381.6,672.6 L1384.1,673.1 L1386.6,673.6 L1389.1,674.0 L1391.6,674.5 L1394.1,675.0 L1396.6,675.4 L1399.1,675.9 L1401.6,676.3 L1404.1,676.8 L1406.6,677.2 L1409.1,677.6 L1411.5,678.1 L1414.0,678.5 L1416.5,678.9 L1419.0,679.3 L1421.4,679.7 L1423.9,680.1 L1426.4,680.5 L1428.9,680.9 L1431.3,681.2 L1433.8,681.6 L1436.3,682.0 L1438.7,682.3 L1441.2,682.7 L1443.7,683.1 L1446.1,683.4 L1448.6,683.8 L1451.1,684.1 L1453.5,684.5 L1456.0,684.8 L1458.5,685.1 L1461.0,685.5 L1463.4,685.8 L1465.9,686.1 L1468.4,686.5 L1470.9,686.8 L1473.3,687.1 L1475.8,687.4 L1478.3,687.7 L1480.8,688.0 L1483.2,688.3 L1485.7,688.6 L1488.2,688.9 L1490.7,689.2 L1493.2,689.5 L1495.6,689.8 L1498.1,690.1 L1500.6,690.4 L1503.1,690.7 L1505.6,690.9 L1508.1,691.2 L1510.6,691.5 L1513.0,691.7 L1515.5,692.0 L1518.0,692.3 L1520.5,692.5 L1523.0,692.8 L1525.5,693.0 L1528.0,693.3 L1530.5,693.5 L1533.0,693.8 L1535.4,694.0 L1537.9,694.3 L1540.4,694.5 L1542.9,694.8 L1545.4,695.0 L1547.9,695.2 L1550.4,695.4 L1552.9,695.7 L1555.4,695.9 L1557.9,696.1 L1560.4,696.3 L1562.9,696.5 L1565.4,696.8 L1567.9,697.0 L1570.4,697.2 L1572.9,697.4 L1575.4,697.6 L1577.9,697.8 L1580.4,698.0 L1582.9,698.2 L1585.4,698.4 L1587.9,698.6 L1590.4,698.8 L1592.9,698.9 L1595.4,699.1 L1597.9,699.3 L1600.4,699.5 L1602.9,699.7 L1605.4,699.8 L1607.9,700.0 L1610.4,700.2 L1612.9,700.4 L1615.4,700.5 L1617.9,700.7 L1620.4,700.9 L1622.9,701.0 L1625.4,701.2 L1627.9,701.3 L1630.5,701.5 L1633.0,701.7 L1635.5,701.8 L1638.0,702.0 L1640.5,702.1 L1643.0,702.3 L1645.5,702.4 L1648.0,702.5 L1650.5,702.7 L1653.0,702.8 L1655.5,703.0 L1658.0,703.1 L1660.5,703.2 L1663.0,703.4 L1665.6,703.5 L1668.1,703.6 L1670.6,703.8 L1673.1,703.9 L1675.6,704.0 L1678.1,704.1 L1680.6,704.3 L1683.1,704.4 L1685.6,704.5 L1688.1,704.6 L1690.6,704.7 L1693.1,704.9 L1695.7,705.0 L1698.2,705.1 L1700.7,705.2 L1703.2,705.3 L1705.7,705.4 L1708.2,705.5 L1710.7,705.6 L1713.2,705.7 L1715.7,705.8 L1718.2,705.9 L1720.7,706.1 L1723.2,706.2 L1725.7,706.3 L1728.3,706.4 L1730.8,706.4 L1733.3,706.5 L1735.8,706.6 L1738.3,706.7 L1740.8,706.8 L1743.3,706.9 L1745.8,707.0 L1748.3,707.1 L1750.8,707.2 L1753.3,707.3 L1755.8,707.4 L1758.3,707.5 L1760.8,707.6 L1763.3,707.6 L1765.8,707.7 L1768.4,707.8 L1770.9,707.9 L1773.4,708.0 L1775.9,708.1 L1778.4,708.2 L1780.9,708.3 L1783.4,708.3 L1785.9,708.4 L1788.4,708.5 L1790.9,708.6 L1793.4,708.7 L1795.9,708.8 L1798.4,708.9 L1800.9,709.0 L1803.4,709.0 L1805.9,709.1 L1808.4,709.2 L1810.9,709.3 L1813.4,709.4 L1815.9,709.5 L1818.4,709.6 L1820.9,709.7 L1823.4,709.8 L1825.9,709.9 L1828.4,710.0 L1830.9,710.1 L1833.4,710.2 L1835.9,710.3 L1838.4,710.4 L1840.9,710.5 L1843.4,710.6 L1845.9,710.7 L1848.4,710.8 L1851.0,710.9 L1853.5,711.0 L1856.0,711.2 L1858.5,711.3 L1861.0,711.4 L1863.5,711.5 L1866.0,711.6 L1868.5,711.8 L1871.0,711.9 L1873.5,712.0 L1876.0,712.2 L1878.5,712.3 L1881.0,712.4 L1883.5,712.6 L1886.0,712.7 L1888.5,712.8 L1891.0,713.0 L1893.5,713.1 L1896.0,713.3 L1898.5,713.5 L1901.0,713.6 L1903.5,713.8 L1906.0,713.9 L1908.5,714.1 L1911.0,714.3 L1913.5,714.4 L1916.0,714.6 L1918.5,714.8 L1921.0,715.0 L1923.5,715.2 L1926.0,715.4 L1928.5,715.6 L1931.0,715.7 L1933.5,716.0 L1936.0,716.2 L1938.5,716.4 L1941.0,716.6 L1943.5,716.8 L1946.0,717.0 L1948.5,717.2 L1951.0,717.5 L1953.5,717.7 L1955.9,718.0 L1958.4,718.3 L1960.9,718.6 L1963.4,718.9 L1965.9,719.2 L1968.4,719.6 L1970.8,719.9 L1973.3,720.3 L1975.8,720.7 L1978.2,721.1 L1980.7,721.5 L1983.1,722.0 L1985.6,722.4 L1988.0,722.9 L1990.5,723.4 L1992.9,723.8 L1995.4,724.3 L1997.8,724.8 L2000.2,725.2 L2002.7,725.7 L2005.1,726.1 L2007.6,726.5 L2010.0,726.9 L2012.5,727.3 L2014.9,727.6 L2017.4,727.8 L2019.8,728.1 L2022.3,728.3 L2024.8,728.4 L2027.3,728.5 L2029.8,728.5 L2031.3,728.9 L2032.8,729.2 L2034.3,729.6 L2035.7,730.0 L2037.2,730.4 L2038.7,730.9 L2040.2,731.3 L2041.6,731.8 L2043.1,732.2 L2044.5,732.7 L2046.0,733.2 L2047.4,733.7 L2048.8,734.2 L2050.3,734.7 L2051.7,735.3 L2053.3,735.8 L2055.0,736.3 L2056.6,736.8 L2058.3,737.4 L2059.9,738.0 L2061.5,738.6 L2062.9,739.2 L2064.2,739.9 L2065.3,740.7 L2066.1,741.5 L2066.7,742.3 L2067.2,743.4 L2067.7,744.6 L2068.1,745.9 L2068.5,747.4 L2068.9,748.9 L2069.2,750.6 L2069.5,752.2 L2069.7,753.9 L2070.0,755.6 L2070.2,757.3 L2070.4,758.9 L2070.5,760.4 L2070.7,761.9 L2070.9,763.4 L2071.0,764.9 L2071.2,766.5 L2071.3,768.0 L2071.5,769.5 L2071.6,771.0 L2071.8,772.5 L2071.9,774.0 L2072.0,775.5 L2072.2,777.1 L2072.3,778.6 L2072.4,780.1 L2072.5,781.6 L2072.6,783.2 L2072.7,784.7 L2072.7,786.2 L2072.8,787.8 L2072.9,789.3 L2072.9,790.8 L2072.9,792.4 L2073.0,793.9 L2073.0,795.5 L2073.0,797.0" fill="none" stroke="#7570B3" stroke-width="3.1" stroke-dasharray="19.5 20.5"/>
<path d="M1296.3,628.6 L1298.1,630.5 L1299.9,632.4 L1301.8,634.2 L1303.6,636.0 L1305.6,637.7 L1307.5,639.3 L1309.5,640.9 L1311.4,642.4 L1313.5,643.9 L1315.5,645.3 L1317.6,646.6 L1319.7,647.9 L1321.8,649.2 L1323.9,650.4 L1326.0,651.6 L1328.2,652.8 L1330.4,653.8 L1332.6,654.9 L1334.9,655.9 L1337.1,656.9 L1339.4,657.8 L1341.6,658.7 L1343.9,659.6 L1346.2,660.5 L1348.6,661.3 L1350.9,662.1 L1353.2,662.8 L1355.6,663.6 L1358.0,664.3 L1360.3,665.0 L1362.7,665.6 L1365.1,666.3 L1367.5,666.9 L1369.9,667.6 L1372.3,668.2 L1374.8,668.8 L1377.2,669.3 L1379.6,669.9 L1382.0,670.5 L1384.5,671.0 L1386.9,671.6 L1389.3,672.2 L1391.8,672.7 L1394.2,673.2 L1396.6,673.8 L1399.1,674.3 L1401.5,674.8 L1404.0,675.4 L1406.4,675.9 L1408.8,676.4 L1411.3,676.9 L1413.7,677.4 L1416.2,677.9 L1418.6,678.4 L1421.1,678.9 L1423.5,679.4 L1426.0,679.9 L1428.4,680.4 L1430.9,680.9 L1433.3,681.4 L1435.8,681.8 L1438.2,682.3 L1440.7,682.8 L1443.1,683.2 L1445.6,683.7 L1448.0,684.1 L1450.5,684.6 L1452.9,685.0 L1455.4,685.4 L1457.9,685.9 L1460.3,686.3 L1462.8,686.7 L1465.2,687.2 L1467.7,687.6 L1470.2,688.0 L1472.6,688.4 L1475.1,688.8 L1477.6,689.2 L1480.0,689.6 L1482.5,690.0 L1484.9,690.4 L1487.4,690.8 L1489.9,691.2 L1492.4,691.6 L1494.8,691.9 L1497.3,692.3 L1499.8,692.7 L1502.2,693.0 L1504.7,693.4 L1507.2,693.8 L1509.6,694.1 L1512.1,694.5 L1514.6,694.8 L1517.1,695.2 L1519.5,695.5 L1522.0,695.8 L1524.5,696.2 L1527.0,696.5 L1529.4,696.8 L1531.9,697.1 L1534.4,697.4 L1536.9,697.8 L1539.4,698.1 L1541.8,698.4 L1544.3,698.7 L1546.8,699.0 L1549.3,699.3 L1551.8,699.6 L1554.2,699.9 L1556.7,700.1 L1559.2,700.4 L1561.7,700.7 L1564.2,701.0 L1566.6,701.2 L1569.1,701.5 L1571.6,701.8 L1574.1,702.0 L1576.6,702.3 L1579.1,702.5 L1581.6,702.8 L1584.0,703.0 L1586.5,703.3 L1589.0,703.5 L1591.5,703.8 L1594.0,704.0 L1596.5,704.2 L1599.0,704.4 L1601.4,704.7 L1603.9,704.9 L1606.4,705.1 L1608.9,705.3 L1611.4,705.5 L1613.9,705.7 L1616.4,705.9 L1618.9,706.1 L1621.4,706.3 L1623.8,706.5 L1626.3,706.7 L1628.8,706.9 L1631.3,707.1 L1633.8,707.3 L1636.3,707.4 L1638.8,707.6 L1641.3,707.8 L1643.8,708.0 L1646.2,708.1 L1648.7,708.3 L1651.2,708.4 L1653.7,708.6 L1656.2,708.8 L1658.7,708.9 L1661.2,709.1 L1663.7,709.2 L1666.2,709.3 L1668.7,709.5 L1671.2,709.6 L1673.6,709.7 L1676.1,709.9 L1678.6,710.0 L1681.1,710.1 L1683.6,710.2 L1686.1,710.4 L1688.6,710.5 L1691.1,710.6 L1693.6,710.7 L1696.1,710.8 L1698.5,710.9 L1701.0,711.0 L1703.5,711.2 L1706.0,711.3 L1708.5,711.4 L1711.0,711.5 L1713.5,711.6 L1716.0,711.7 L1718.5,711.7 L1721.0,711.8 L1723.5,711.9 L1725.9,712.0 L1728.4,712.1 L1730.9,712.2 L1733.4,712.3 L1735.9,712.4 L1738.4,712.5 L1740.9,712.6 L1743.4,712.6 L1745.9,712.7 L1748.4,712.8 L1750.9,712.9 L1753.4,713.0 L1755.8,713.1 L1758.3,713.1 L1760.8,713.2 L1763.3,713.3 L1765.8,713.4 L1768.3,713.5 L1770.8,713.5 L1773.3,713.6 L1775.8,713.7 L1778.3,713.8 L1780.8,713.9 L1783.2,713.9 L1785.7,714.0 L1788.2,714.1 L1790.7,714.2 L1793.2,714.3 L1795.7,714.4 L1798.2,714.4 L1800.7,714.5 L1803.2,714.6 L1805.7,714.7 L1808.2,714.8 L1810.7,714.9 L1813.1,715.0 L1815.6,715.0 L1818.1,715.1 L1820.6,715.2 L1823.1,715.3 L1825.6,715.4 L1828.1,715.5 L1830.6,715.6 L1833.1,715.7 L1835.6,715.8 L1838.1,715.9 L1840.6,716.0 L1843.0,716.1 L1845.5,716.2 L1848.0,716.4 L1850.5,716.5 L1853.0,716.6 L1855.5,716.7 L1858.0,716.8 L1860.5,716.9 L1863.0,717.1 L1865.5,717.2 L1868.0,717.3 L1870.5,717.5 L1872.9,717.6 L1875.4,717.7 L1877.9,717.9 L1880.4,718.0 L1882.9,718.1 L1885.4,718.3 L1887.9,718.4 L1890.4,718.6 L1892.9,718.7 L1895.4,718.9 L1897.9,719.1 L1900.4,719.2 L1902.8,719.4 L1905.3,719.6 L1907.8,719.7 L1910.3,719.9 L1912.8,720.1 L1915.3,720.2 L1917.8,720.4 L1920.3,720.6 L1922.8,720.8 L1925.2,721.0 L1927.7,721.2 L1930.2,721.3 L1932.7,721.5 L1935.2,721.7 L1937.7,721.9 L1940.2,722.1 L1942.7,722.3 L1945.1,722.5 L1947.6,722.7 L1950.1,722.9 L1952.6,723.2 L1955.1,723.4 L1957.6,723.6 L1960.1,723.8 L1962.5,724.0 L1965.0,724.2 L1967.5,724.5 L1970.0,724.7 L1972.5,724.9 L1974.9,725.2 L1977.4,725.4 L1979.9,725.6 L1982.4,725.9 L1984.9,726.1 L1987.3,726.3 L1989.8,726.6 L1992.3,726.8 L1994.8,727.1 L1997.2,727.3 L1999.7,727.6 L2002.2,727.8 L2004.7,728.1 L2007.1,728.4 L2009.6,728.6 L2012.1,728.9 L2014.6,729.1 L2017.0,729.4 L2019.5,729.7 L2022.0,730.0 L2024.4,730.2 L2026.9,730.5 L2028.4,730.8 L2029.9,731.2 L2031.4,731.6 L2032.9,732.0 L2034.4,732.4 L2035.9,732.8 L2037.4,733.3 L2038.8,733.8 L2040.3,734.3 L2041.7,734.8 L2043.2,735.3 L2044.6,735.9 L2046.0,736.4 L2047.4,737.0 L2048.9,737.6 L2050.4,738.1 L2052.0,738.8 L2053.6,739.4 L2055.2,740.1 L2056.8,740.8 L2058.3,741.5 L2059.7,742.3 L2060.9,743.1 L2062.0,743.9 L2063.0,744.8 L2063.7,745.8 L2064.2,746.8 L2064.8,747.9 L2065.2,749.2 L2065.7,750.5 L2066.0,752.0 L2066.4,753.5 L2066.8,755.0 L2067.1,756.6 L2067.4,758.3 L2067.7,759.9 L2068.0,761.6 L2068.2,763.2 L2068.5,764.9 L2068.8,766.5 L2069.1,768.1 L2069.4,769.7 L2069.8,771.2 L2070.1,772.7 L2070.5,774.2 L2070.8,775.7 L2071.1,777.2 L2071.5,778.7 L2071.8,780.2 L2072.1,781.7 L2072.3,783.2 L2072.5,784.7 L2072.7,786.3 L2072.8,787.8 L2073.0,789.3 L2073.1,790.8 L2073.3,792.4 L2073.4,793.9 L2073.4,795.5 L2073.5,797.0" fill="none" stroke="#E3358B" stroke-width="3.1" stroke-dasharray="19.5 20.5"/>
<path d="M1296.3,657.5 L1298.6,658.4 L1300.9,659.3 L1303.2,660.2 L1305.5,661.0 L1307.8,661.8 L1310.2,662.6 L1312.5,663.4 L1314.8,664.1 L1317.2,664.8 L1319.5,665.6 L1321.9,666.2 L1324.3,666.9 L1326.6,667.6 L1329.0,668.2 L1331.4,668.8 L1333.8,669.4 L1336.1,670.0 L1338.5,670.6 L1340.9,671.1 L1343.3,671.6 L1345.7,672.2 L1348.1,672.7 L1350.5,673.2 L1352.9,673.7 L1355.3,674.1 L1357.7,674.6 L1360.2,675.0 L1362.6,675.5 L1365.0,675.9 L1367.4,676.3 L1369.9,676.7 L1372.3,677.1 L1374.7,677.5 L1377.1,677.9 L1379.6,678.2 L1382.0,678.6 L1384.4,679.0 L1386.9,679.3 L1389.3,679.7 L1391.8,680.0 L1394.2,680.3 L1396.6,680.7 L1399.1,681.0 L1401.5,681.3 L1404.0,681.6 L1406.4,681.9 L1408.9,682.2 L1411.3,682.6 L1413.7,682.8 L1416.2,683.1 L1418.6,683.4 L1421.1,683.7 L1423.5,684.0 L1426.0,684.3 L1428.4,684.5 L1430.9,684.8 L1433.3,685.1 L1435.8,685.3 L1438.2,685.6 L1440.7,685.8 L1443.1,686.1 L1445.6,686.3 L1448.0,686.6 L1450.5,686.8 L1453.0,687.0 L1455.4,687.2 L1457.9,687.5 L1460.3,687.7 L1462.8,687.9 L1465.2,688.1 L1467.7,688.3 L1470.1,688.5 L1472.6,688.7 L1475.1,688.9 L1477.5,689.1 L1480.0,689.3 L1482.4,689.5 L1484.9,689.7 L1487.4,689.9 L1489.8,690.0 L1492.3,690.2 L1494.8,690.4 L1497.2,690.6 L1499.7,690.7 L1502.2,690.9 L1504.6,691.1 L1507.1,691.2 L1509.5,691.4 L1512.0,691.5 L1514.5,691.7 L1516.9,691.8 L1519.4,692.0 L1521.9,692.1 L1524.3,692.3 L1526.8,692.4 L1529.3,692.5 L1531.7,692.7 L1534.2,692.8 L1536.7,692.9 L1539.2,693.1 L1541.6,693.2 L1544.1,693.3 L1546.6,693.4 L1549.0,693.5 L1551.5,693.7 L1554.0,693.8 L1556.4,693.9 L1558.9,694.0 L1561.4,694.1 L1563.8,694.2 L1566.3,694.3 L1568.8,694.5 L1571.3,694.6 L1573.7,694.7 L1576.2,694.8 L1578.7,694.9 L1581.1,695.0 L1583.6,695.1 L1586.1,695.2 L1588.6,695.3 L1591.0,695.4 L1593.5,695.5 L1596.0,695.5 L1598.4,695.6 L1600.9,695.7 L1603.4,695.8 L1605.9,695.9 L1608.3,696.0 L1610.8,696.1 L1613.3,696.2 L1615.7,696.3 L1618.2,696.4 L1620.7,696.4 L1623.2,696.5 L1625.6,696.6 L1628.1,696.7 L1630.6,696.8 L1633.0,696.9 L1635.5,697.0 L1638.0,697.1 L1640.5,697.1 L1642.9,697.2 L1645.4,697.3 L1647.9,697.4 L1650.3,697.5 L1652.8,697.6 L1655.3,697.7 L1657.8,697.7 L1660.2,697.8 L1662.7,697.9 L1665.2,698.0 L1667.6,698.1 L1670.1,698.2 L1672.6,698.3 L1675.0,698.4 L1677.5,698.5 L1680.0,698.5 L1682.4,698.6 L1684.9,698.7 L1687.4,698.8 L1689.8,698.9 L1692.3,699.0 L1694.8,699.1 L1697.2,699.2 L1699.7,699.3 L1702.2,699.4 L1704.6,699.5 L1707.1,699.6 L1709.6,699.7 L1712.0,699.8 L1714.5,699.8 L1717.0,699.9 L1719.4,700.0 L1721.9,700.1 L1724.4,700.2 L1726.8,700.3 L1729.3,700.4 L1731.8,700.5 L1734.2,700.6 L1736.7,700.7 L1739.2,700.8 L1741.6,700.9 L1744.1,701.0 L1746.6,701.1 L1749.0,701.2 L1751.5,701.3 L1753.9,701.4 L1756.4,701.5 L1758.9,701.6 L1761.3,701.7 L1763.8,701.8 L1766.3,701.9 L1768.7,702.0 L1771.2,702.1 L1773.7,702.2 L1776.1,702.3 L1778.6,702.4 L1781.0,702.5 L1783.5,702.6 L1786.0,702.7 L1788.4,702.8 L1790.9,702.9 L1793.4,703.0 L1795.8,703.1 L1798.3,703.2 L1800.8,703.3 L1803.2,703.4 L1805.7,703.5 L1808.1,703.6 L1810.6,703.7 L1813.1,703.8 L1815.5,703.9 L1818.0,704.0 L1820.5,704.2 L1822.9,704.3 L1825.4,704.4 L1827.8,704.5 L1830.3,704.6 L1832.8,704.7 L1835.2,704.8 L1837.7,704.9 L1840.2,705.0 L1842.6,705.1 L1845.1,705.2 L1847.5,705.3 L1850.0,705.4 L1852.5,705.5 L1854.9,705.6 L1857.4,705.7 L1859.9,705.8 L1862.3,706.0 L1864.8,706.1 L1867.2,706.2 L1869.7,706.3 L1872.2,706.4 L1874.6,706.5 L1877.1,706.6 L1879.6,706.7 L1882.0,706.8 L1884.5,706.9 L1887.0,707.0 L1889.4,707.1 L1891.9,707.2 L1894.3,707.4 L1896.8,707.5 L1899.3,707.6 L1901.7,707.7 L1904.2,707.8 L1906.7,707.9 L1909.1,708.0 L1911.6,708.1 L1914.1,708.2 L1916.5,708.3 L1919.0,708.4 L1921.4,708.6 L1923.9,708.7 L1926.4,708.8 L1928.8,708.9 L1931.3,709.0 L1933.8,709.1 L1936.2,709.2 L1938.7,709.3 L1941.2,709.4 L1943.6,709.5 L1946.1,709.7 L1948.6,709.8 L1951.0,709.9 L1953.5,710.0 L1956.0,710.1 L1958.4,710.2 L1960.9,710.3 L1963.4,710.4 L1965.8,710.5 L1968.3,710.6 L1970.8,710.8 L1973.2,710.9 L1975.7,711.0 L1978.2,711.1 L1980.6,711.2 L1983.1,711.3 L1985.6,711.4 L1988.0,711.5 L1990.5,711.6 L1993.0,711.7 L1995.4,711.9 L1997.9,712.0 L2000.4,712.1 L2002.8,712.2 L2005.3,712.3 L2007.8,712.4 L2010.2,712.5 L2012.7,712.6 L2015.2,712.7 L2017.6,712.8 L2020.1,713.0 L2022.6,713.1 L2025.1,713.2 L2027.5,713.3 L2030.0,713.4 L2032.1,713.4 L2034.1,713.4 L2036.1,713.5 L2038.0,713.6 L2039.8,713.7 L2041.6,713.8 L2043.4,714.0 L2045.1,714.1 L2046.7,714.3 L2048.3,714.5 L2049.8,714.8 L2051.2,715.0 L2052.6,715.3 L2053.9,715.6 L2055.2,715.9 L2056.4,716.2 L2057.5,716.6 L2058.6,716.9 L2059.6,717.3 L2060.5,717.7 L2061.4,718.2 L2062.2,719.1 L2063.1,720.2 L2063.8,721.5 L2064.6,723.1 L2065.3,724.7 L2065.9,726.4 L2066.4,728.1 L2066.9,729.8 L2067.2,731.3 L2067.5,732.8 L2067.7,734.2 L2068.0,735.7 L2068.2,737.2 L2068.4,738.7 L2068.6,740.2 L2068.7,741.7 L2068.9,743.2 L2069.1,744.7 L2069.2,746.3 L2069.3,747.8 L2069.5,749.4 L2069.6,750.9 L2069.7,752.4 L2069.8,754.0 L2069.9,755.6 L2070.1,757.1 L2070.2,758.7 L2070.3,760.2 L2070.4,761.8 L2070.5,763.3 L2070.6,764.9 L2070.7,766.4 L2070.8,767.9 L2071.0,769.5 L2071.1,771.0 L2071.2,772.5 L2071.3,774.1 L2071.5,775.6 L2071.6,777.1 L2071.7,778.6 L2071.8,780.2 L2071.9,781.7 L2072.0,783.2 L2072.2,784.8 L2072.3,786.3 L2072.4,787.8 L2072.5,789.3 L2072.6,790.9 L2072.7,792.4 L2072.8,793.9 L2072.9,795.5 L2073.0,797.0" fill="none" stroke="#68A83C" stroke-width="3.1" stroke-dasharray="19.5 20.5"/>
<path d="M1295.8,633.9 L1297.1,636.2 L1298.5,638.3 L1300.0,640.4 L1301.6,642.4 L1303.2,644.3 L1304.9,646.1 L1306.6,647.8 L1308.5,649.4 L1310.3,651.0 L1312.3,652.5 L1314.2,653.9 L1316.3,655.2 L1318.3,656.5 L1320.4,657.7 L1322.6,658.9 L1324.8,660.0 L1327.0,661.1 L1329.3,662.1 L1331.5,663.1 L1333.8,664.0 L1336.1,664.9 L1338.5,665.7 L1340.8,666.6 L1343.2,667.4 L1345.6,668.1 L1347.9,668.9 L1350.3,669.6 L1352.7,670.4 L1355.1,671.0 L1357.5,671.7 L1359.9,672.4 L1362.3,673.0 L1364.7,673.7 L1367.1,674.3 L1369.6,674.9 L1372.0,675.5 L1374.4,676.1 L1376.8,676.7 L1379.2,677.3 L1381.7,677.8 L1384.1,678.4 L1386.5,679.0 L1388.9,679.5 L1391.4,680.1 L1393.8,680.7 L1396.2,681.2 L1398.6,681.8 L1401.1,682.4 L1403.5,683.0 L1405.9,683.6 L1408.3,684.2 L1410.7,684.8 L1413.1,685.4 L1415.5,686.0 L1417.9,686.7 L1420.2,687.3 L1422.6,688.0 L1425.0,688.6 L1427.4,689.3 L1429.8,689.9 L1432.1,690.6 L1434.5,691.2 L1436.9,691.9 L1439.2,692.5 L1441.6,693.2 L1444.0,693.8 L1446.4,694.4 L1448.7,695.0 L1451.1,695.6 L1453.5,696.1 L1455.9,696.7 L1458.3,697.2 L1460.7,697.7 L1463.1,698.2 L1465.5,698.7 L1467.9,699.1 L1470.3,699.6 L1472.7,700.0 L1475.2,700.4 L1477.6,700.8 L1480.0,701.1 L1482.4,701.5 L1484.9,701.8 L1487.3,702.2 L1489.7,702.5 L1492.2,702.8 L1494.6,703.1 L1497.1,703.4 L1499.5,703.7 L1502.0,704.0 L1504.4,704.2 L1506.9,704.5 L1509.3,704.7 L1511.8,705.0 L1514.3,705.2 L1516.7,705.5 L1519.2,705.7 L1521.7,705.9 L1524.1,706.1 L1526.6,706.3 L1529.1,706.5 L1531.5,706.7 L1534.0,706.9 L1536.5,707.0 L1539.0,707.2 L1541.5,707.4 L1543.9,707.5 L1546.4,707.7 L1548.9,707.9 L1551.4,708.0 L1553.9,708.2 L1556.3,708.3 L1558.8,708.4 L1561.3,708.6 L1563.8,708.7 L1566.3,708.8 L1568.8,709.0 L1571.2,709.1 L1573.7,709.2 L1576.2,709.3 L1578.7,709.5 L1581.2,709.6 L1583.7,709.7 L1586.1,709.8 L1588.6,709.9 L1591.1,710.0 L1593.6,710.1 L1596.1,710.2 L1598.6,710.3 L1601.1,710.5 L1603.5,710.6 L1606.0,710.7 L1608.5,710.8 L1611.0,710.9 L1613.5,711.0 L1616.0,711.1 L1618.4,711.2 L1620.9,711.3 L1623.4,711.3 L1625.9,711.4 L1628.4,711.5 L1630.9,711.6 L1633.3,711.7 L1635.8,711.8 L1638.3,711.9 L1640.8,712.0 L1643.3,712.1 L1645.8,712.1 L1648.2,712.2 L1650.7,712.3 L1653.2,712.4 L1655.7,712.5 L1658.2,712.5 L1660.6,712.6 L1663.1,712.7 L1665.6,712.8 L1668.1,712.9 L1670.6,712.9 L1673.1,713.0 L1675.5,713.1 L1678.0,713.1 L1680.5,713.2 L1683.0,713.3 L1685.5,713.4 L1687.9,713.4 L1690.4,713.5 L1692.9,713.6 L1695.4,713.6 L1697.9,713.7 L1700.4,713.8 L1702.8,713.9 L1705.3,713.9 L1707.8,714.0 L1710.3,714.1 L1712.8,714.1 L1715.2,714.2 L1717.7,714.3 L1720.2,714.3 L1722.7,714.4 L1725.2,714.4 L1727.6,714.5 L1730.1,714.6 L1732.6,714.6 L1735.1,714.7 L1737.6,714.8 L1740.1,714.8 L1742.5,714.9 L1745.0,715.0 L1747.5,715.0 L1750.0,715.1 L1752.5,715.2 L1754.9,715.2 L1757.4,715.3 L1759.9,715.4 L1762.4,715.4 L1764.9,715.5 L1767.3,715.6 L1769.8,715.6 L1772.3,715.7 L1774.8,715.8 L1777.3,715.8 L1779.7,715.9 L1782.2,716.0 L1784.7,716.0 L1787.2,716.1 L1789.7,716.2 L1792.1,716.2 L1794.6,716.3 L1797.1,716.4 L1799.6,716.4 L1802.0,716.5 L1804.5,716.6 L1807.0,716.7 L1809.5,716.7 L1812.0,716.8 L1814.4,716.9 L1816.9,717.0 L1819.4,717.0 L1821.9,717.1 L1824.4,717.2 L1826.8,717.3 L1829.3,717.3 L1831.8,717.4 L1834.3,717.5 L1836.7,717.6 L1839.2,717.7 L1841.7,717.8 L1844.2,717.8 L1846.7,717.9 L1849.1,718.0 L1851.6,718.1 L1854.1,718.2 L1856.6,718.3 L1859.1,718.4 L1861.5,718.5 L1864.0,718.6 L1866.5,718.7 L1869.0,718.8 L1871.4,718.9 L1873.9,718.9 L1876.4,719.0 L1878.9,719.2 L1881.4,719.3 L1883.8,719.4 L1886.3,719.5 L1888.8,719.6 L1891.3,719.7 L1893.7,719.8 L1896.2,719.9 L1898.7,720.0 L1901.2,720.1 L1903.6,720.2 L1906.1,720.4 L1908.6,720.5 L1911.1,720.6 L1913.6,720.7 L1916.0,720.9 L1918.5,721.0 L1921.0,721.1 L1923.5,721.2 L1925.9,721.4 L1928.4,721.5 L1930.9,721.6 L1933.4,721.8 L1935.8,721.9 L1938.3,722.1 L1940.8,722.2 L1943.3,722.4 L1945.7,722.5 L1948.2,722.7 L1950.7,722.8 L1953.2,723.0 L1955.6,723.1 L1958.1,723.3 L1960.6,723.4 L1963.1,723.6 L1965.5,723.8 L1968.0,723.9 L1970.5,724.1 L1973.0,724.3 L1975.5,724.4 L1977.9,724.6 L1980.4,724.8 L1982.9,725.0 L1985.4,725.2 L1987.8,725.3 L1990.3,725.5 L1992.8,725.7 L1995.3,725.9 L1997.7,726.1 L2000.2,726.3 L2002.7,726.5 L2005.2,726.7 L2007.6,726.9 L2010.1,727.1 L2012.6,727.3 L2015.1,727.6 L2017.5,727.8 L2020.0,728.0 L2021.6,728.0 L2023.2,728.1 L2024.8,728.3 L2026.4,728.5 L2028.0,728.7 L2029.6,728.9 L2031.1,729.2 L2032.6,729.6 L2034.1,729.9 L2035.6,730.3 L2037.1,730.7 L2038.6,731.1 L2040.1,731.5 L2041.5,732.0 L2043.0,732.5 L2044.4,733.0 L2045.8,733.5 L2047.2,734.0 L2048.6,734.5 L2050.0,735.0 L2051.4,735.5 L2052.9,736.2 L2054.4,736.8 L2055.9,737.6 L2057.4,738.4 L2058.9,739.3 L2060.3,740.2 L2061.6,741.1 L2062.8,742.1 L2063.8,743.1 L2064.5,744.2 L2065.1,745.3 L2065.6,746.4 L2066.0,747.7 L2066.5,749.0 L2066.8,750.4 L2067.2,751.8 L2067.5,753.3 L2067.8,754.9 L2068.1,756.5 L2068.3,758.1 L2068.6,759.8 L2068.8,761.4 L2069.1,763.1 L2069.3,764.7 L2069.5,766.3 L2069.7,767.9 L2069.9,769.5 L2070.1,771.0 L2070.4,772.5 L2070.6,774.1 L2070.8,775.6 L2071.0,777.1 L2071.2,778.6 L2071.4,780.1 L2071.5,781.7 L2071.7,783.2 L2071.9,784.7 L2072.1,786.3 L2072.2,787.8 L2072.4,789.3 L2072.5,790.9 L2072.7,792.4 L2072.8,793.9 L2072.9,795.5 L2073.0,797.0" fill="none" stroke="#DDAD33" stroke-width="3.1" stroke-dasharray="19.5 20.5"/>
<path d="M1296.3,631.0 L1297.9,633.0 L1299.6,634.9 L1301.4,636.7 L1303.1,638.5 L1304.9,640.3 L1306.8,642.0 L1308.6,643.6 L1310.5,645.2 L1312.4,646.7 L1314.4,648.2 L1316.3,649.7 L1318.3,651.1 L1320.4,652.5 L1322.4,653.8 L1324.5,655.1 L1326.6,656.3 L1328.7,657.5 L1330.8,658.7 L1333.0,659.8 L1335.2,660.9 L1337.4,662.0 L1339.6,663.0 L1341.8,664.0 L1344.1,665.0 L1346.3,665.9 L1348.6,666.8 L1350.9,667.7 L1353.2,668.6 L1355.5,669.4 L1357.9,670.2 L1360.2,671.0 L1362.6,671.7 L1364.9,672.4 L1367.3,673.1 L1369.7,673.8 L1372.1,674.5 L1374.5,675.1 L1376.9,675.7 L1379.3,676.3 L1381.8,676.9 L1384.2,677.5 L1386.6,678.0 L1389.1,678.6 L1391.6,679.1 L1394.0,679.6 L1396.5,680.1 L1398.9,680.6 L1401.4,681.0 L1403.9,681.5 L1406.4,681.9 L1408.9,682.4 L1411.3,682.8 L1413.8,683.2 L1416.3,683.6 L1418.8,684.0 L1421.3,684.4 L1423.8,684.8 L1426.2,685.2 L1428.7,685.6 L1431.2,686.0 L1433.7,686.3 L1436.2,686.7 L1438.7,687.0 L1441.1,687.4 L1443.6,687.7 L1446.1,688.1 L1448.6,688.4 L1451.1,688.7 L1453.6,689.1 L1456.0,689.4 L1458.5,689.7 L1461.0,690.0 L1463.5,690.3 L1466.0,690.6 L1468.4,690.9 L1470.9,691.2 L1473.4,691.4 L1475.9,691.7 L1478.4,692.0 L1480.9,692.3 L1483.3,692.5 L1485.8,692.8 L1488.3,693.0 L1490.8,693.3 L1493.3,693.5 L1495.8,693.8 L1498.2,694.0 L1500.7,694.2 L1503.2,694.4 L1505.7,694.7 L1508.2,694.9 L1510.7,695.1 L1513.1,695.3 L1515.6,695.5 L1518.1,695.7 L1520.6,695.9 L1523.1,696.1 L1525.6,696.3 L1528.0,696.5 L1530.5,696.7 L1533.0,696.9 L1535.5,697.0 L1538.0,697.2 L1540.5,697.4 L1542.9,697.5 L1545.4,697.7 L1547.9,697.9 L1550.4,698.0 L1552.9,698.2 L1555.4,698.3 L1557.8,698.5 L1560.3,698.6 L1562.8,698.8 L1565.3,698.9 L1567.8,699.1 L1570.3,699.2 L1572.7,699.3 L1575.2,699.5 L1577.7,699.6 L1580.2,699.7 L1582.7,699.9 L1585.2,700.0 L1587.7,700.1 L1590.1,700.2 L1592.6,700.3 L1595.1,700.5 L1597.6,700.6 L1600.1,700.7 L1602.6,700.8 L1605.0,700.9 L1607.5,701.0 L1610.0,701.1 L1612.5,701.2 L1615.0,701.3 L1617.5,701.4 L1620.0,701.5 L1622.4,701.7 L1624.9,701.8 L1627.4,701.9 L1629.9,702.0 L1632.4,702.1 L1634.9,702.1 L1637.3,702.2 L1639.8,702.3 L1642.3,702.4 L1644.8,702.5 L1647.3,702.6 L1649.8,702.7 L1652.3,702.8 L1654.8,702.9 L1657.2,703.0 L1659.7,703.1 L1662.2,703.2 L1664.7,703.3 L1667.2,703.4 L1669.7,703.5 L1672.2,703.6 L1674.6,703.7 L1677.1,703.8 L1679.6,703.9 L1682.1,704.0 L1684.6,704.1 L1687.1,704.2 L1689.6,704.3 L1692.1,704.4 L1694.5,704.5 L1697.0,704.6 L1699.5,704.7 L1702.0,704.8 L1704.5,704.9 L1707.0,705.0 L1709.5,705.1 L1712.0,705.2 L1714.5,705.3 L1716.9,705.4 L1719.4,705.5 L1721.9,705.6 L1724.4,705.8 L1726.9,705.9 L1729.4,706.0 L1731.9,706.1 L1734.4,706.2 L1736.9,706.3 L1739.3,706.5 L1741.8,706.6 L1744.3,706.7 L1746.8,706.8 L1749.3,706.9 L1751.8,707.1 L1754.3,707.2 L1756.8,707.3 L1759.3,707.4 L1761.8,707.6 L1764.2,707.7 L1766.7,707.8 L1769.2,707.9 L1771.7,708.1 L1774.2,708.2 L1776.7,708.3 L1779.2,708.5 L1781.7,708.6 L1784.2,708.7 L1786.7,708.9 L1789.1,709.0 L1791.6,709.1 L1794.1,709.3 L1796.6,709.4 L1799.1,709.5 L1801.6,709.7 L1804.1,709.8 L1806.6,709.9 L1809.1,710.1 L1811.6,710.2 L1814.1,710.4 L1816.5,710.5 L1819.0,710.6 L1821.5,710.8 L1824.0,710.9 L1826.5,711.1 L1829.0,711.2 L1831.5,711.3 L1834.0,711.5 L1836.5,711.6 L1839.0,711.8 L1841.4,711.9 L1843.9,712.1 L1846.4,712.2 L1848.9,712.3 L1851.4,712.5 L1853.9,712.6 L1856.4,712.8 L1858.9,712.9 L1861.4,713.1 L1863.9,713.2 L1866.3,713.4 L1868.8,713.5 L1871.3,713.7 L1873.8,713.8 L1876.3,713.9 L1878.8,714.1 L1881.3,714.2 L1883.8,714.4 L1886.3,714.5 L1888.8,714.7 L1891.2,714.8 L1893.7,715.0 L1896.2,715.1 L1898.7,715.3 L1901.2,715.4 L1903.7,715.6 L1906.2,715.7 L1908.7,715.9 L1911.1,716.0 L1913.6,716.2 L1916.1,716.3 L1918.6,716.4 L1921.1,716.6 L1923.6,716.7 L1926.1,716.9 L1928.6,717.0 L1931.0,717.2 L1933.5,717.3 L1936.0,717.5 L1938.5,717.6 L1941.0,717.8 L1943.5,717.9 L1946.0,718.1 L1948.4,718.2 L1950.9,718.3 L1953.4,718.5 L1955.9,718.6 L1958.4,718.8 L1960.9,718.9 L1963.4,719.1 L1965.8,719.2 L1968.3,719.4 L1970.8,719.5 L1973.3,719.6 L1975.8,719.8 L1978.3,719.9 L1980.7,720.1 L1983.2,720.2 L1985.7,720.3 L1988.2,720.5 L1990.7,720.6 L1993.2,720.8 L1995.6,720.9 L1998.1,721.0 L2000.6,721.2 L2003.1,721.3 L2005.6,721.4 L2008.0,721.6 L2010.5,721.7 L2013.0,721.8 L2015.5,722.0 L2018.0,722.1 L2020.4,722.2 L2022.9,722.4 L2025.4,722.5 L2026.9,722.7 L2028.4,723.0 L2030.0,723.2 L2031.5,723.5 L2033.0,723.7 L2034.5,723.9 L2036.1,724.1 L2037.6,724.3 L2039.1,724.5 L2040.7,724.7 L2042.2,724.8 L2043.7,725.0 L2045.3,725.1 L2046.8,725.3 L2048.5,725.4 L2050.3,725.5 L2052.2,725.6 L2054.1,725.6 L2056.0,725.7 L2057.9,725.8 L2059.6,725.9 L2061.2,726.0 L2062.6,726.1 L2063.7,726.2 L2064.5,726.3 L2065.1,726.5 L2065.4,727.0 L2065.7,727.7 L2066.0,728.8 L2066.2,730.1 L2066.4,731.6 L2066.6,733.3 L2066.8,735.1 L2067.0,737.0 L2067.1,739.0 L2067.3,740.9 L2067.5,742.9 L2067.6,744.7 L2067.8,746.5 L2068.0,748.1 L2068.2,749.6 L2068.4,751.1 L2068.7,752.7 L2068.9,754.2 L2069.1,755.7 L2069.3,757.2 L2069.6,758.8 L2069.8,760.3 L2070.0,761.8 L2070.2,763.3 L2070.4,764.9 L2070.6,766.4 L2070.8,767.9 L2070.9,769.5 L2071.1,771.0 L2071.2,772.5 L2071.4,774.1 L2071.5,775.6 L2071.6,777.1 L2071.7,778.7 L2071.8,780.2 L2071.9,781.7 L2072.1,783.3 L2072.2,784.8 L2072.3,786.3 L2072.5,787.9 L2072.7,789.4 L2072.9,790.9 L2073.2,792.4 L2073.4,794.0 L2073.7,795.5 L2074.0,797.0" fill="none" stroke="#A6792D" stroke-width="3.1" stroke-dasharray="19.5 20.5"/>
<path d="M1295.8,296.0 L1295.9,299.2 L1296.0,302.4 L1296.2,305.6 L1296.3,308.8 L1296.5,312.0 L1296.8,315.2 L1297.0,318.4 L1297.3,321.6 L1297.5,324.8 L1297.9,328.1 L1298.2,331.3 L1298.6,334.5 L1299.0,337.7 L1299.4,340.9 L1299.8,344.1 L1300.3,347.3 L1300.8,350.5 L1301.4,353.7 L1301.9,356.9 L1302.6,360.1 L1303.2,363.3 L1303.9,366.4 L1304.6,369.6 L1305.3,372.7 L1306.1,375.9 L1306.9,379.0 L1307.7,382.1 L1308.6,385.2 L1309.6,388.3 L1310.5,391.4 L1311.5,394.4 L1312.5,397.5 L1313.6,400.5 L1314.7,403.5 L1315.9,406.5 L1317.1,409.5 L1318.3,412.5 L1319.6,415.4 L1321.0,418.4 L1322.3,421.3 L1323.8,424.1 L1325.2,427.0 L1326.7,429.8 L1328.3,432.7 L1329.9,435.5 L1331.5,438.2 L1333.2,441.0 L1335.0,443.7 L1336.7,446.4 L1338.6,449.0 L1340.4,451.7 L1342.3,454.3 L1344.3,456.9 L1346.2,459.4 L1348.3,461.9 L1350.3,464.4 L1352.4,466.8 L1354.6,469.3 L1356.7,471.7 L1358.9,474.0 L1361.2,476.3 L1363.4,478.6 L1365.7,480.8 L1368.1,483.1 L1370.5,485.2 L1372.9,487.4 L1375.3,489.4 L1377.8,491.5 L1380.3,493.5 L1382.8,495.5 L1385.3,497.4 L1387.9,499.3 L1390.5,501.2 L1393.1,503.1 L1395.8,504.9 L1398.4,506.6 L1401.1,508.4 L1403.8,510.1 L1406.5,511.8 L1409.2,513.5 L1412.0,515.1 L1414.7,516.7 L1417.5,518.3 L1420.2,519.9 L1423.0,521.4 L1425.8,523.0 L1428.6,524.5 L1431.4,526.0 L1434.2,527.5 L1437.0,529.1 L1439.8,530.6 L1442.6,532.1 L1445.5,533.6 L1448.3,535.2 L1451.1,536.7 L1453.9,538.3 L1456.7,539.8 L1459.5,541.4 L1462.3,543.0 L1465.1,544.6 L1467.9,546.2 L1470.7,547.8 L1473.6,549.4 L1476.4,551.0 L1479.2,552.5 L1482.0,554.1 L1484.8,555.7 L1487.7,557.3 L1490.5,558.8 L1493.3,560.3 L1496.2,561.9 L1499.1,563.4 L1501.9,564.8 L1504.8,566.3 L1507.7,567.7 L1510.6,569.2 L1513.5,570.6 L1516.4,571.9 L1519.3,573.3 L1522.3,574.6 L1525.2,575.8 L1528.2,577.1 L1531.2,578.3 L1534.2,579.4 L1537.2,580.5 L1540.2,581.6 L1543.2,582.7 L1546.2,583.8 L1549.3,584.8 L1552.3,585.8 L1555.4,586.8 L1558.4,587.9 L1561.5,588.9 L1564.5,589.9 L1567.6,590.9 L1570.6,592.0 L1573.7,593.0 L1576.7,594.1 L1579.8,595.2 L1582.8,596.2 L1585.8,597.3 L1588.9,598.4 L1591.9,599.6 L1594.9,600.7 L1597.9,601.8 L1601.0,602.9 L1604.0,604.0 L1607.0,605.1 L1610.0,606.3 L1613.1,607.4 L1616.1,608.5 L1619.1,609.6 L1622.1,610.7 L1625.2,611.8 L1628.2,612.8 L1631.3,613.9 L1634.3,615.0 L1637.3,616.1 L1640.4,617.1 L1643.4,618.2 L1646.5,619.2 L1649.5,620.3 L1652.6,621.3 L1655.6,622.4 L1658.6,623.4 L1661.7,624.4 L1664.8,625.5 L1667.8,626.5 L1670.9,627.5 L1673.9,628.5 L1677.0,629.5 L1680.0,630.5 L1683.1,631.5 L1686.2,632.5 L1689.2,633.5 L1692.3,634.5 L1695.4,635.4 L1698.5,636.4 L1701.5,637.4 L1704.6,638.3 L1707.7,639.3 L1710.8,640.2 L1713.8,641.2 L1716.9,642.1 L1720.0,643.1 L1723.1,644.0 L1726.2,644.9 L1729.3,645.8 L1732.3,646.8 L1735.4,647.7 L1738.5,648.6 L1741.6,649.5 L1744.7,650.4 L1747.8,651.3 L1750.9,652.2 L1754.0,653.1 L1757.1,653.9 L1760.2,654.8 L1763.3,655.7 L1766.4,656.5 L1769.6,657.4 L1772.7,658.3 L1775.8,659.1 L1778.9,660.0 L1782.0,660.8 L1785.1,661.6 L1788.3,662.5 L1791.4,663.3 L1794.5,664.1 L1797.6,664.9 L1800.8,665.7 L1803.9,666.6 L1807.0,667.4 L1810.2,668.2 L1813.3,669.0 L1816.4,669.7 L1819.6,670.5 L1822.7,671.3 L1825.8,672.1 L1829.0,672.9 L1832.1,673.7 L1835.2,674.5 L1838.4,675.3 L1841.5,676.1 L1844.6,676.9 L1847.8,677.7 L1850.9,678.6 L1854.0,679.4 L1857.1,680.3 L1860.2,681.1 L1863.3,682.0 L1866.4,682.9 L1869.5,683.8 L1872.6,684.8 L1875.6,685.7 L1878.7,686.7 L1881.7,687.7 L1884.8,688.7 L1887.8,689.8 L1890.8,690.8 L1893.8,691.9 L1896.8,693.0 L1899.8,694.2 L1902.8,695.3 L1905.8,696.5 L1908.8,697.7 L1911.7,698.9 L1914.7,700.2 L1917.6,701.4 L1920.5,702.7 L1923.4,704.0 L1926.4,705.4 L1929.3,706.7 L1932.1,708.1 L1935.0,709.5 L1937.9,711.0 L1940.8,712.4 L1943.6,713.9 L1946.5,715.4 L1949.3,716.9 L1952.1,718.5 L1954.9,720.0 L1957.8,721.6 L1960.6,723.2 L1963.4,724.8 L1966.2,726.4 L1969.0,728.0 L1971.8,729.6 L1974.6,731.2 L1977.4,732.8 L1980.2,734.5 L1983.0,736.1 L1985.8,737.7 L1988.6,739.3 L1991.4,740.9 L1994.2,742.5 L1997.0,744.1 L1999.8,745.6 L2002.7,747.2 L2005.5,748.7 L2008.3,750.2 L2011.2,751.8 L2014.0,753.3 L2016.8,754.8 L2019.7,756.4 L2022.5,757.9 L2025.3,759.5 L2028.1,761.0 L2030.9,762.6 L2033.7,764.3 L2036.4,765.9 L2039.2,767.6 L2041.9,769.3 L2044.6,771.0 L2047.3,772.8 L2050.0,774.6 L2052.6,776.5 L2055.2,778.4 L2057.8,780.4 L2059.1,781.5 L2060.4,782.6 L2061.6,783.8 L2062.8,785.0 L2064.0,786.2 L2065.1,787.4 L2066.2,788.7 L2067.2,790.0 L2068.3,791.3 L2069.2,792.7 L2070.2,794.1 L2071.1,795.5 L2072.0,797.0" fill="none" stroke="#3FA67F" stroke-width="3.1"/>
<path d="M1296.5,237.9 L1296.6,241.5 L1296.8,245.1 L1296.9,248.7 L1297.1,252.2 L1297.2,255.8 L1297.4,259.3 L1297.5,262.9 L1297.7,266.4 L1297.8,269.9 L1298.0,273.4 L1298.2,276.9 L1298.3,280.4 L1298.5,283.9 L1298.6,287.4 L1298.8,290.9 L1299.0,294.4 L1299.1,297.9 L1299.3,301.3 L1299.5,304.8 L1299.7,308.3 L1299.8,311.8 L1300.0,315.3 L1300.2,318.7 L1300.3,322.2 L1300.5,325.7 L1300.7,329.2 L1300.9,332.6 L1301.1,336.1 L1301.2,339.6 L1301.4,343.1 L1301.6,346.6 L1301.8,350.1 L1302.0,353.6 L1302.2,357.1 L1302.3,360.7 L1302.5,364.2 L1302.7,367.7 L1302.9,371.3 L1303.1,374.8 L1303.3,378.4 L1303.5,382.0 L1303.7,385.5 L1303.8,389.1 L1304.0,392.7 L1304.3,396.3 L1304.5,399.9 L1304.7,403.5 L1305.0,407.2 L1305.3,410.7 L1305.6,414.3 L1306.0,417.9 L1306.4,421.5 L1306.8,425.1 L1307.3,428.6 L1307.8,432.1 L1308.4,435.6 L1309.1,439.1 L1309.8,442.5 L1310.6,446.0 L1311.4,449.4 L1312.3,452.7 L1313.3,456.1 L1314.4,459.4 L1315.5,462.6 L1316.8,465.8 L1318.1,469.0 L1319.5,472.1 L1321.0,475.2 L1322.6,478.2 L1324.3,481.2 L1326.0,484.2 L1327.8,487.1 L1329.7,489.9 L1331.7,492.7 L1333.7,495.5 L1335.9,498.2 L1338.0,500.8 L1340.3,503.4 L1342.6,506.0 L1345.0,508.4 L1347.5,510.9 L1350.0,513.2 L1352.6,515.5 L1355.2,517.8 L1357.9,520.0 L1360.7,522.1 L1363.5,524.2 L1366.3,526.2 L1369.2,528.1 L1372.2,530.0 L1375.2,531.8 L1378.3,533.6 L1381.4,535.3 L1384.5,537.0 L1387.7,538.6 L1390.9,540.1 L1394.1,541.6 L1397.4,543.1 L1400.6,544.6 L1403.9,546.0 L1407.2,547.4 L1410.5,548.8 L1413.8,550.1 L1417.1,551.5 L1420.4,552.8 L1423.7,554.1 L1427.0,555.4 L1430.4,556.7 L1433.7,557.9 L1437.0,559.2 L1440.3,560.4 L1443.7,561.6 L1447.0,562.8 L1450.3,563.9 L1453.7,565.1 L1457.0,566.2 L1460.4,567.4 L1463.7,568.5 L1467.1,569.6 L1470.4,570.7 L1473.8,571.7 L1477.1,572.8 L1480.5,573.8 L1483.9,574.9 L1487.2,575.9 L1490.6,576.9 L1494.0,577.9 L1497.3,578.9 L1500.7,579.9 L1504.1,580.9 L1507.5,581.8 L1510.9,582.8 L1514.2,583.7 L1517.6,584.7 L1521.0,585.6 L1524.4,586.5 L1527.8,587.4 L1531.2,588.3 L1534.6,589.2 L1538.0,590.1 L1541.4,591.0 L1544.8,591.9 L1548.2,592.8 L1551.6,593.6 L1555.0,594.5 L1558.4,595.3 L1561.8,596.2 L1565.3,597.1 L1568.7,597.9 L1572.1,598.8 L1575.5,599.6 L1578.9,600.4 L1582.3,601.3 L1585.8,602.1 L1589.2,602.9 L1592.6,603.8 L1596.0,604.6 L1599.5,605.4 L1602.9,606.3 L1606.3,607.1 L1609.7,607.9 L1613.2,608.7 L1616.6,609.5 L1620.0,610.3 L1623.5,611.1 L1626.9,611.9 L1630.3,612.8 L1633.8,613.6 L1637.2,614.4 L1640.6,615.2 L1644.1,616.0 L1647.5,616.8 L1650.9,617.5 L1654.4,618.3 L1657.8,619.1 L1661.2,619.9 L1664.7,620.7 L1668.1,621.5 L1671.6,622.3 L1675.0,623.1 L1678.4,623.9 L1681.9,624.6 L1685.3,625.4 L1688.8,626.2 L1692.2,627.0 L1695.6,627.8 L1699.1,628.5 L1702.5,629.3 L1706.0,630.1 L1709.4,630.9 L1712.8,631.7 L1716.3,632.4 L1719.7,633.2 L1723.2,634.0 L1726.6,634.8 L1730.0,635.5 L1733.5,636.3 L1736.9,637.1 L1740.4,637.9 L1743.8,638.6 L1747.2,639.4 L1750.7,640.2 L1754.1,641.0 L1757.5,641.7 L1761.0,642.5 L1764.4,643.3 L1767.8,644.1 L1771.3,644.8 L1774.7,645.6 L1778.1,646.4 L1781.6,647.2 L1785.0,647.9 L1788.4,648.7 L1791.9,649.5 L1795.3,650.3 L1798.7,651.1 L1802.2,651.9 L1805.6,652.6 L1809.0,653.4 L1812.5,654.2 L1815.9,655.0 L1819.3,655.8 L1822.7,656.6 L1826.2,657.4 L1829.6,658.2 L1833.0,659.0 L1836.5,659.8 L1839.9,660.6 L1843.3,661.4 L1846.8,662.2 L1850.2,663.1 L1853.7,663.9 L1857.1,664.7 L1860.5,665.5 L1864.0,666.4 L1867.4,667.2 L1870.8,668.1 L1874.3,669.0 L1877.7,669.9 L1881.1,670.8 L1884.5,671.7 L1887.9,672.7 L1891.3,673.7 L1894.7,674.7 L1898.0,675.7 L1901.4,676.8 L1904.7,677.9 L1908.1,679.1 L1911.4,680.2 L1914.7,681.4 L1917.9,682.7 L1921.2,684.0 L1924.5,685.3 L1927.7,686.7 L1930.9,688.1 L1934.1,689.5 L1937.3,691.0 L1940.4,692.5 L1943.6,694.1 L1946.7,695.6 L1949.8,697.2 L1952.9,698.9 L1956.0,700.6 L1959.1,702.3 L1962.1,704.0 L1965.2,705.8 L1968.2,707.6 L1971.2,709.4 L1974.1,711.3 L1977.1,713.2 L1980.1,715.1 L1983.0,717.0 L1985.9,719.0 L1988.8,721.0 L1991.7,723.1 L1994.5,725.1 L1997.4,727.2 L2000.2,729.4 L2003.0,731.5 L2005.8,733.7 L2008.6,735.9 L2011.3,738.1 L2014.1,740.3 L2016.8,742.5 L2019.6,744.8 L2022.3,747.0 L2025.0,749.3 L2027.7,751.6 L2030.5,753.8 L2033.2,756.1 L2035.9,758.3 L2038.6,760.6 L2041.3,762.8 L2044.0,765.1 L2046.8,767.3 L2049.5,769.5 L2052.3,771.7 L2055.0,773.9 L2057.8,776.0 L2059.0,777.1 L2060.1,778.3 L2061.3,779.4 L2062.3,780.6 L2063.4,781.9 L2064.3,783.1 L2065.3,784.4 L2066.2,785.7 L2067.0,787.0 L2067.8,788.3 L2068.6,789.7 L2069.4,791.1 L2070.1,792.5 L2070.8,794.0 L2071.4,795.5 L2072.0,797.0" fill="none" stroke="#D8622A" stroke-width="3.1"/>
<path d="M1295.6,303.7 L1296.0,306.7 L1296.4,309.8 L1296.8,312.9 L1297.2,316.0 L1297.5,319.1 L1297.9,322.3 L1298.2,325.5 L1298.5,328.7 L1298.9,331.9 L1299.2,335.1 L1299.5,338.3 L1299.8,341.5 L1300.2,344.8 L1300.5,348.0 L1300.9,351.3 L1301.2,354.6 L1301.6,357.8 L1302.0,361.1 L1302.5,364.3 L1302.9,367.6 L1303.4,370.8 L1303.9,374.0 L1304.5,377.2 L1305.1,380.5 L1305.7,383.6 L1306.4,386.8 L1307.1,390.0 L1307.8,393.1 L1308.6,396.2 L1309.5,399.3 L1310.4,402.4 L1311.4,405.4 L1312.4,408.4 L1313.5,411.4 L1314.7,414.4 L1315.9,417.3 L1317.2,420.2 L1318.5,423.0 L1319.9,425.8 L1321.3,428.6 L1322.9,431.4 L1324.4,434.1 L1326.1,436.7 L1327.8,439.3 L1329.5,441.9 L1331.4,444.5 L1333.3,446.9 L1335.2,449.4 L1337.2,451.8 L1339.3,454.1 L1341.4,456.5 L1343.6,458.7 L1345.8,460.9 L1348.1,463.1 L1350.4,465.3 L1352.8,467.4 L1355.2,469.5 L1357.7,471.5 L1360.2,473.5 L1362.7,475.4 L1365.3,477.4 L1367.9,479.3 L1370.5,481.2 L1373.1,483.0 L1375.7,484.8 L1378.4,486.6 L1381.1,488.4 L1383.8,490.1 L1386.5,491.8 L1389.2,493.5 L1392.0,495.2 L1394.7,496.8 L1397.5,498.5 L1400.3,500.1 L1403.1,501.6 L1405.9,503.2 L1408.7,504.7 L1411.5,506.3 L1414.4,507.8 L1417.2,509.2 L1420.1,510.7 L1423.0,512.1 L1425.8,513.6 L1428.7,515.0 L1431.6,516.4 L1434.5,517.7 L1437.4,519.1 L1440.3,520.4 L1443.3,521.8 L1446.2,523.1 L1449.1,524.4 L1452.1,525.7 L1455.0,527.0 L1458.0,528.2 L1461.0,529.5 L1463.9,530.7 L1466.9,531.9 L1469.9,533.2 L1472.9,534.4 L1475.8,535.6 L1478.8,536.8 L1481.8,537.9 L1484.8,539.1 L1487.8,540.3 L1490.8,541.4 L1493.8,542.6 L1496.8,543.7 L1499.8,544.9 L1502.8,546.0 L1505.8,547.1 L1508.8,548.2 L1511.8,549.4 L1514.8,550.5 L1517.8,551.6 L1520.8,552.7 L1523.8,553.7 L1526.8,554.8 L1529.8,555.9 L1532.8,557.0 L1535.8,558.0 L1538.8,559.1 L1541.8,560.2 L1544.8,561.2 L1547.9,562.3 L1550.9,563.3 L1553.9,564.3 L1556.9,565.4 L1559.9,566.4 L1562.9,567.4 L1566.0,568.5 L1569.0,569.5 L1572.0,570.5 L1575.0,571.5 L1578.0,572.5 L1581.1,573.5 L1584.1,574.5 L1587.1,575.5 L1590.2,576.5 L1593.2,577.5 L1596.2,578.5 L1599.2,579.5 L1602.3,580.4 L1605.3,581.4 L1608.3,582.4 L1611.4,583.4 L1614.4,584.3 L1617.4,585.3 L1620.5,586.3 L1623.5,587.3 L1626.6,588.2 L1629.6,589.2 L1632.6,590.1 L1635.7,591.1 L1638.7,592.1 L1641.8,593.0 L1644.8,594.0 L1647.9,594.9 L1650.9,595.9 L1654.0,596.8 L1657.0,597.8 L1660.1,598.7 L1663.1,599.7 L1666.2,600.6 L1669.2,601.6 L1672.3,602.5 L1675.3,603.5 L1678.4,604.4 L1681.4,605.4 L1684.5,606.3 L1687.6,607.3 L1690.6,608.2 L1693.7,609.2 L1696.7,610.1 L1699.8,611.1 L1702.9,612.0 L1705.9,613.0 L1709.0,614.0 L1712.0,614.9 L1715.1,615.9 L1718.1,616.8 L1721.2,617.8 L1724.3,618.8 L1727.3,619.7 L1730.4,620.7 L1733.4,621.6 L1736.5,622.6 L1739.5,623.6 L1742.6,624.6 L1745.7,625.5 L1748.7,626.5 L1751.8,627.5 L1754.8,628.5 L1757.9,629.5 L1760.9,630.5 L1764.0,631.5 L1767.0,632.4 L1770.1,633.4 L1773.1,634.4 L1776.2,635.5 L1779.2,636.5 L1782.2,637.5 L1785.3,638.5 L1788.3,639.5 L1791.4,640.5 L1794.4,641.6 L1797.4,642.6 L1800.5,643.6 L1803.5,644.7 L1806.5,645.7 L1809.6,646.8 L1812.6,647.8 L1815.6,648.9 L1818.6,649.9 L1821.7,651.0 L1824.7,652.1 L1827.7,653.2 L1830.7,654.3 L1833.7,655.4 L1836.7,656.5 L1839.7,657.6 L1842.7,658.8 L1845.7,659.9 L1848.6,661.1 L1851.6,662.3 L1854.6,663.5 L1857.5,664.7 L1860.4,666.0 L1863.4,667.2 L1866.3,668.5 L1869.2,669.8 L1872.1,671.1 L1875.0,672.5 L1877.9,673.9 L1880.7,675.3 L1883.6,676.7 L1886.4,678.1 L1889.2,679.6 L1892.1,681.1 L1894.9,682.6 L1897.7,684.1 L1900.4,685.7 L1903.2,687.2 L1906.0,688.8 L1908.7,690.4 L1911.5,692.1 L1914.2,693.7 L1917.0,695.4 L1919.7,697.0 L1922.4,698.7 L1925.1,700.4 L1927.8,702.1 L1930.5,703.8 L1933.2,705.5 L1935.9,707.3 L1938.6,709.0 L1941.3,710.8 L1944.0,712.5 L1946.6,714.3 L1949.3,716.1 L1952.0,717.8 L1954.6,719.6 L1957.3,721.4 L1960.0,723.2 L1962.6,725.0 L1965.3,726.7 L1967.9,728.5 L1970.6,730.3 L1973.3,732.1 L1975.9,733.9 L1978.6,735.7 L1981.2,737.5 L1983.9,739.2 L1986.6,741.0 L1989.2,742.8 L1991.9,744.5 L1994.6,746.3 L1997.3,748.1 L2000.0,749.8 L2002.6,751.6 L2005.3,753.3 L2008.0,755.0 L2010.7,756.7 L2013.4,758.5 L2016.1,760.1 L2018.9,761.8 L2021.6,763.5 L2024.3,765.2 L2027.1,766.8 L2029.8,768.5 L2032.6,770.1 L2035.3,771.7 L2038.1,773.3 L2040.9,774.9 L2043.7,776.4 L2046.5,778.0 L2049.3,779.5 L2052.1,781.0 L2055.0,782.5 L2057.8,784.0 L2059.3,784.9 L2060.8,785.9 L2062.3,786.9 L2063.7,788.0 L2065.0,789.1 L2066.3,790.3 L2067.5,791.5 L2068.7,792.8 L2069.9,794.1 L2071.0,795.5 L2072.0,797.0" fill="none" stroke="#7570B3" stroke-width="3.1"/>
<path d="M1296.3,344.3 L1296.6,347.3 L1296.9,350.3 L1297.2,353.3 L1297.5,356.3 L1297.8,359.3 L1298.2,362.4 L1298.6,365.5 L1299.0,368.5 L1299.5,371.6 L1300.0,374.7 L1300.5,377.8 L1301.0,380.9 L1301.6,384.0 L1302.2,387.0 L1302.9,390.1 L1303.6,393.2 L1304.3,396.2 L1305.1,399.3 L1305.9,402.3 L1306.8,405.3 L1307.7,408.2 L1308.7,411.2 L1309.7,414.1 L1310.8,417.0 L1312.0,419.9 L1313.1,422.7 L1314.4,425.5 L1315.7,428.3 L1317.1,431.0 L1318.5,433.7 L1320.0,436.4 L1321.6,439.0 L1323.2,441.5 L1324.9,444.1 L1326.6,446.5 L1328.5,448.9 L1330.3,451.3 L1332.2,453.7 L1334.2,455.9 L1336.3,458.2 L1338.4,460.4 L1340.5,462.5 L1342.7,464.6 L1344.9,466.7 L1347.2,468.7 L1349.5,470.7 L1351.9,472.7 L1354.3,474.6 L1356.7,476.5 L1359.2,478.3 L1361.6,480.1 L1364.1,482.0 L1366.6,483.7 L1369.2,485.5 L1371.7,487.2 L1374.3,488.9 L1376.9,490.6 L1379.4,492.2 L1382.1,493.9 L1384.7,495.5 L1387.3,497.1 L1389.9,498.7 L1392.6,500.2 L1395.3,501.7 L1397.9,503.3 L1400.6,504.8 L1403.3,506.2 L1406.0,507.7 L1408.7,509.1 L1411.5,510.6 L1414.2,512.0 L1417.0,513.4 L1419.7,514.7 L1422.5,516.1 L1425.3,517.4 L1428.0,518.8 L1430.8,520.1 L1433.6,521.4 L1436.4,522.6 L1439.3,523.9 L1442.1,525.2 L1444.9,526.4 L1447.7,527.7 L1450.6,528.9 L1453.4,530.1 L1456.3,531.3 L1459.1,532.5 L1462.0,533.7 L1464.8,534.8 L1467.7,536.0 L1470.6,537.1 L1473.4,538.3 L1476.3,539.4 L1479.2,540.5 L1482.1,541.6 L1485.0,542.8 L1487.8,543.9 L1490.7,545.0 L1493.6,546.0 L1496.5,547.1 L1499.4,548.2 L1502.3,549.3 L1505.2,550.4 L1508.1,551.4 L1511.0,552.5 L1513.9,553.5 L1516.8,554.6 L1519.7,555.6 L1522.6,556.7 L1525.5,557.7 L1528.4,558.7 L1531.3,559.7 L1534.2,560.8 L1537.1,561.8 L1540.0,562.8 L1542.9,563.8 L1545.8,564.8 L1548.7,565.8 L1551.6,566.8 L1554.5,567.8 L1557.4,568.8 L1560.4,569.8 L1563.3,570.7 L1566.2,571.7 L1569.1,572.7 L1572.0,573.7 L1574.9,574.6 L1577.9,575.6 L1580.8,576.6 L1583.7,577.5 L1586.6,578.5 L1589.5,579.4 L1592.5,580.4 L1595.4,581.3 L1598.3,582.3 L1601.2,583.2 L1604.2,584.2 L1607.1,585.1 L1610.0,586.0 L1613.0,587.0 L1615.9,587.9 L1618.8,588.9 L1621.7,589.8 L1624.7,590.7 L1627.6,591.7 L1630.5,592.6 L1633.5,593.5 L1636.4,594.4 L1639.3,595.4 L1642.3,596.3 L1645.2,597.2 L1648.1,598.1 L1651.1,599.1 L1654.0,600.0 L1656.9,600.9 L1659.9,601.9 L1662.8,602.8 L1665.7,603.7 L1668.7,604.6 L1671.6,605.6 L1674.5,606.5 L1677.5,607.4 L1680.4,608.3 L1683.4,609.3 L1686.3,610.2 L1689.2,611.1 L1692.2,612.1 L1695.1,613.0 L1698.0,613.9 L1701.0,614.9 L1703.9,615.8 L1706.8,616.8 L1709.8,617.7 L1712.7,618.6 L1715.6,619.6 L1718.6,620.5 L1721.5,621.5 L1724.4,622.5 L1727.4,623.4 L1730.3,624.4 L1733.2,625.3 L1736.1,626.3 L1739.1,627.3 L1742.0,628.3 L1744.9,629.2 L1747.8,630.2 L1750.8,631.2 L1753.7,632.2 L1756.6,633.2 L1759.5,634.2 L1762.4,635.2 L1765.3,636.2 L1768.2,637.2 L1771.2,638.2 L1774.1,639.2 L1777.0,640.3 L1779.9,641.3 L1782.8,642.3 L1785.7,643.4 L1788.6,644.4 L1791.5,645.5 L1794.4,646.5 L1797.3,647.6 L1800.2,648.6 L1803.1,649.7 L1805.9,650.8 L1808.8,651.9 L1811.7,653.0 L1814.6,654.1 L1817.5,655.2 L1820.3,656.3 L1823.2,657.4 L1826.1,658.5 L1829.0,659.7 L1831.8,660.8 L1834.7,661.9 L1837.5,663.1 L1840.4,664.2 L1843.3,665.4 L1846.1,666.6 L1849.0,667.7 L1851.8,668.9 L1854.6,670.1 L1857.5,671.3 L1860.3,672.5 L1863.1,673.7 L1866.0,674.9 L1868.8,676.2 L1871.6,677.4 L1874.4,678.7 L1877.1,680.0 L1879.9,681.3 L1882.7,682.6 L1885.4,684.0 L1888.2,685.3 L1890.9,686.7 L1893.6,688.2 L1896.3,689.6 L1899.0,691.1 L1901.6,692.6 L1904.3,694.1 L1907.0,695.6 L1909.6,697.2 L1912.2,698.7 L1914.8,700.3 L1917.4,702.0 L1920.0,703.6 L1922.6,705.3 L1925.2,706.9 L1927.8,708.6 L1930.3,710.3 L1932.9,711.9 L1935.5,713.6 L1938.1,715.3 L1940.6,717.0 L1943.2,718.7 L1945.8,720.3 L1948.4,722.0 L1951.0,723.7 L1953.6,725.3 L1956.2,727.0 L1958.8,728.6 L1961.4,730.2 L1964.0,731.9 L1966.6,733.5 L1969.2,735.1 L1971.8,736.7 L1974.5,738.3 L1977.1,739.9 L1979.8,741.5 L1982.4,743.1 L1985.1,744.6 L1987.7,746.2 L1990.4,747.7 L1993.1,749.2 L1995.7,750.8 L1998.4,752.3 L2001.1,753.8 L2003.8,755.3 L2006.5,756.7 L2009.2,758.2 L2011.9,759.7 L2014.7,761.1 L2017.4,762.6 L2020.1,764.0 L2022.8,765.5 L2025.5,767.0 L2028.2,768.4 L2031.0,769.9 L2033.7,771.3 L2036.4,772.8 L2039.1,774.3 L2041.8,775.8 L2044.5,777.3 L2047.2,778.8 L2049.8,780.3 L2052.5,781.9 L2055.2,783.4 L2057.8,785.0 L2059.2,785.9 L2060.7,786.9 L2062.0,787.9 L2063.4,788.9 L2064.7,789.9 L2066.0,791.0 L2067.3,792.1 L2068.5,793.3 L2069.7,794.5 L2070.9,795.7 L2072.0,797.0" fill="none" stroke="#E3358B" stroke-width="3.1"/>
<path d="M1295.6,287.1 L1295.9,290.3 L1296.3,293.5 L1296.6,296.7 L1297.0,300.0 L1297.4,303.2 L1297.7,306.4 L1298.1,309.7 L1298.5,312.9 L1298.9,316.1 L1299.3,319.4 L1299.7,322.6 L1300.2,325.9 L1300.6,329.2 L1301.1,332.4 L1301.5,335.7 L1302.0,338.9 L1302.5,342.2 L1303.1,345.5 L1303.6,348.7 L1304.2,352.0 L1304.7,355.2 L1305.3,358.5 L1305.9,361.7 L1306.6,364.9 L1307.2,368.2 L1307.9,371.4 L1308.6,374.6 L1309.3,377.8 L1310.1,381.0 L1310.9,384.2 L1311.7,387.4 L1312.5,390.6 L1313.3,393.8 L1314.2,396.9 L1315.1,400.1 L1316.0,403.2 L1317.0,406.3 L1318.0,409.4 L1319.0,412.5 L1320.1,415.6 L1321.2,418.7 L1322.3,421.8 L1323.5,424.8 L1324.7,427.8 L1325.9,430.8 L1327.1,433.8 L1328.4,436.8 L1329.8,439.7 L1331.2,442.7 L1332.6,445.6 L1334.0,448.5 L1335.5,451.4 L1337.0,454.2 L1338.6,457.1 L1340.2,459.9 L1341.9,462.7 L1343.6,465.4 L1345.3,468.2 L1347.1,470.9 L1349.0,473.6 L1350.8,476.2 L1352.7,478.9 L1354.7,481.5 L1356.7,484.1 L1358.7,486.6 L1360.8,489.2 L1362.9,491.7 L1365.0,494.1 L1367.2,496.6 L1369.4,499.0 L1371.6,501.4 L1373.9,503.8 L1376.2,506.1 L1378.5,508.4 L1380.8,510.7 L1383.2,512.9 L1385.7,515.1 L1388.1,517.3 L1390.6,519.4 L1393.1,521.5 L1395.6,523.6 L1398.2,525.6 L1400.8,527.6 L1403.4,529.6 L1406.0,531.5 L1408.6,533.4 L1411.3,535.2 L1414.0,537.1 L1416.7,538.8 L1419.5,540.6 L1422.2,542.3 L1425.0,544.0 L1427.8,545.7 L1430.5,547.4 L1433.4,549.0 L1436.2,550.6 L1439.0,552.2 L1441.8,553.8 L1444.7,555.4 L1447.5,557.0 L1450.4,558.6 L1453.2,560.1 L1456.1,561.7 L1459.0,563.3 L1461.8,564.8 L1464.7,566.4 L1467.6,567.9 L1470.4,569.5 L1473.3,571.0 L1476.2,572.5 L1479.1,574.1 L1482.0,575.6 L1484.9,577.1 L1487.8,578.6 L1490.7,580.1 L1493.6,581.6 L1496.5,583.1 L1499.5,584.6 L1502.4,586.0 L1505.3,587.5 L1508.2,589.0 L1511.2,590.4 L1514.1,591.9 L1517.1,593.3 L1520.0,594.7 L1523.0,596.1 L1525.9,597.5 L1528.9,598.9 L1531.9,600.3 L1534.8,601.7 L1537.8,603.1 L1540.8,604.5 L1543.8,605.8 L1546.7,607.2 L1549.7,608.5 L1552.7,609.8 L1555.7,611.1 L1558.7,612.4 L1561.8,613.7 L1564.8,615.0 L1567.8,616.3 L1570.8,617.5 L1573.8,618.8 L1576.9,620.0 L1579.9,621.3 L1582.9,622.5 L1586.0,623.7 L1589.0,624.9 L1592.1,626.0 L1595.1,627.2 L1598.2,628.4 L1601.3,629.5 L1604.4,630.6 L1607.4,631.7 L1610.5,632.8 L1613.6,633.9 L1616.7,635.0 L1619.8,636.0 L1622.9,637.1 L1626.0,638.1 L1629.1,639.2 L1632.2,640.2 L1635.3,641.2 L1638.4,642.2 L1641.6,643.2 L1644.7,644.1 L1647.8,645.1 L1650.9,646.1 L1654.1,647.0 L1657.2,648.0 L1660.3,648.9 L1663.5,649.8 L1666.6,650.8 L1669.8,651.7 L1672.9,652.6 L1676.1,653.5 L1679.2,654.4 L1682.4,655.3 L1685.5,656.2 L1688.7,657.1 L1691.8,658.0 L1695.0,658.9 L1698.1,659.8 L1701.3,660.7 L1704.4,661.6 L1707.6,662.5 L1710.7,663.4 L1713.9,664.3 L1717.0,665.3 L1720.2,666.2 L1723.3,667.1 L1726.5,668.0 L1729.6,668.9 L1732.7,669.8 L1735.9,670.8 L1739.0,671.7 L1742.2,672.6 L1745.3,673.6 L1748.4,674.5 L1751.6,675.4 L1754.7,676.4 L1757.9,677.3 L1761.0,678.2 L1764.1,679.2 L1767.3,680.1 L1770.4,681.0 L1773.6,682.0 L1776.7,682.9 L1779.8,683.8 L1783.0,684.7 L1786.1,685.6 L1789.3,686.5 L1792.4,687.4 L1795.6,688.3 L1798.7,689.2 L1801.9,690.1 L1805.1,690.9 L1808.2,691.8 L1811.4,692.6 L1814.5,693.5 L1817.7,694.3 L1820.9,695.1 L1824.1,695.9 L1827.2,696.7 L1830.4,697.5 L1833.6,698.3 L1836.8,699.1 L1840.0,699.8 L1843.1,700.6 L1846.3,701.4 L1849.5,702.2 L1852.7,702.9 L1855.9,703.7 L1859.1,704.5 L1862.2,705.3 L1865.4,706.1 L1868.6,706.9 L1871.8,707.7 L1874.9,708.5 L1878.1,709.3 L1881.3,710.1 L1884.4,710.9 L1887.6,711.7 L1890.8,712.6 L1893.9,713.5 L1897.1,714.3 L1900.2,715.2 L1903.3,716.1 L1906.5,717.0 L1909.6,718.0 L1912.7,718.9 L1915.8,719.9 L1919.0,720.9 L1922.1,721.9 L1925.2,722.9 L1928.3,723.9 L1931.3,725.0 L1934.4,726.1 L1937.5,727.2 L1940.6,728.4 L1943.6,729.5 L1946.7,730.7 L1949.7,731.9 L1952.7,733.2 L1955.8,734.4 L1958.8,735.7 L1961.8,737.0 L1964.8,738.2 L1967.8,739.5 L1970.8,740.9 L1973.9,742.2 L1976.9,743.5 L1979.9,744.8 L1982.9,746.1 L1985.9,747.4 L1988.9,748.7 L1991.9,750.0 L1994.9,751.3 L1998.0,752.5 L2001.0,753.8 L2004.0,755.0 L2007.1,756.3 L2010.1,757.5 L2013.1,758.7 L2016.2,760.0 L2019.2,761.2 L2022.2,762.4 L2025.3,763.7 L2028.3,764.9 L2031.3,766.2 L2034.3,767.5 L2037.3,768.8 L2040.3,770.2 L2043.2,771.6 L2046.2,773.0 L2049.1,774.4 L2052.0,775.9 L2054.9,777.4 L2057.8,779.0 L2059.1,780.0 L2060.4,781.1 L2061.6,782.2 L2062.8,783.4 L2064.0,784.6 L2065.0,785.8 L2066.1,787.1 L2067.0,788.4 L2068.0,789.7 L2068.9,791.1 L2069.7,792.5 L2070.5,794.0 L2071.3,795.5 L2072.0,797.0" fill="none" stroke="#68A83C" stroke-width="3.1"/>
<path d="M1296.9,133.6 L1297.1,137.3 L1297.3,140.9 L1297.6,144.6 L1297.8,148.2 L1298.0,151.9 L1298.2,155.6 L1298.4,159.2 L1298.6,162.9 L1298.8,166.6 L1299.0,170.2 L1299.2,173.9 L1299.4,177.6 L1299.6,181.3 L1299.8,185.0 L1300.0,188.6 L1300.2,192.3 L1300.4,196.0 L1300.6,199.7 L1300.8,203.4 L1301.1,207.1 L1301.3,210.7 L1301.5,214.4 L1301.8,218.1 L1302.1,221.8 L1302.3,225.5 L1302.6,229.2 L1302.9,232.8 L1303.2,236.5 L1303.5,240.2 L1303.9,243.9 L1304.2,247.5 L1304.6,251.2 L1304.9,254.9 L1305.3,258.5 L1305.7,262.2 L1306.1,265.9 L1306.6,269.5 L1307.0,273.2 L1307.5,276.8 L1308.0,280.5 L1308.5,284.1 L1309.0,287.8 L1309.6,291.4 L1310.2,295.0 L1310.8,298.6 L1311.4,302.3 L1312.0,305.9 L1312.7,309.5 L1313.4,313.1 L1314.1,316.7 L1314.9,320.3 L1315.6,323.9 L1316.4,327.5 L1317.3,331.0 L1318.1,334.6 L1319.0,338.2 L1319.9,341.7 L1320.9,345.3 L1321.8,348.8 L1322.9,352.3 L1323.9,355.9 L1325.0,359.4 L1326.1,362.9 L1327.2,366.4 L1328.4,369.9 L1329.6,373.4 L1330.9,376.8 L1332.2,380.3 L1333.5,383.8 L1334.9,387.2 L1336.3,390.6 L1337.7,394.0 L1339.2,397.4 L1340.7,400.8 L1342.3,404.1 L1343.8,407.5 L1345.5,410.8 L1347.2,414.1 L1348.9,417.3 L1350.6,420.6 L1352.5,423.8 L1354.3,427.0 L1356.2,430.1 L1358.1,433.3 L1360.1,436.3 L1362.1,439.4 L1364.2,442.4 L1366.3,445.4 L1368.4,448.4 L1370.6,451.3 L1372.9,454.2 L1375.2,457.0 L1377.5,459.8 L1379.9,462.6 L1382.3,465.3 L1384.8,468.0 L1387.3,470.7 L1389.8,473.3 L1392.4,475.9 L1395.0,478.5 L1397.6,481.0 L1400.3,483.5 L1403.0,486.0 L1405.7,488.4 L1408.5,490.8 L1411.3,493.2 L1414.1,495.6 L1416.9,497.9 L1419.8,500.2 L1422.7,502.5 L1425.6,504.7 L1428.5,506.9 L1431.5,509.1 L1434.5,511.3 L1437.5,513.5 L1440.5,515.6 L1443.5,517.7 L1446.5,519.8 L1449.6,521.9 L1452.6,523.9 L1455.7,526.0 L1458.8,528.0 L1461.9,530.0 L1465.0,532.0 L1468.1,533.9 L1471.2,535.9 L1474.3,537.8 L1477.5,539.7 L1480.6,541.6 L1483.8,543.5 L1487.0,545.3 L1490.2,547.2 L1493.3,549.0 L1496.5,550.8 L1499.7,552.6 L1503.0,554.4 L1506.2,556.2 L1509.4,558.0 L1512.7,559.7 L1515.9,561.4 L1519.1,563.1 L1522.4,564.9 L1525.7,566.5 L1528.9,568.2 L1532.2,569.9 L1535.5,571.6 L1538.8,573.2 L1542.1,574.8 L1545.4,576.5 L1548.7,578.1 L1552.0,579.7 L1555.3,581.3 L1558.6,582.9 L1561.9,584.5 L1565.3,586.0 L1568.6,587.6 L1571.9,589.2 L1575.2,590.7 L1578.6,592.2 L1581.9,593.8 L1585.3,595.3 L1588.6,596.8 L1592.0,598.3 L1595.3,599.8 L1598.7,601.3 L1602.0,602.8 L1605.4,604.3 L1608.8,605.7 L1612.1,607.2 L1615.5,608.7 L1618.9,610.1 L1622.3,611.5 L1625.7,613.0 L1629.0,614.4 L1632.4,615.8 L1635.8,617.2 L1639.2,618.6 L1642.6,620.0 L1646.0,621.4 L1649.4,622.8 L1652.8,624.1 L1656.3,625.5 L1659.7,626.9 L1663.1,628.2 L1666.5,629.5 L1670.0,630.9 L1673.4,632.2 L1676.8,633.5 L1680.3,634.8 L1683.7,636.1 L1687.1,637.4 L1690.6,638.7 L1694.0,639.9 L1697.5,641.2 L1701.0,642.5 L1704.4,643.7 L1707.9,645.0 L1711.4,646.2 L1714.8,647.4 L1718.3,648.7 L1721.8,649.9 L1725.3,651.1 L1728.7,652.3 L1732.2,653.5 L1735.7,654.7 L1739.2,655.9 L1742.7,657.1 L1746.2,658.3 L1749.7,659.5 L1753.1,660.6 L1756.6,661.8 L1760.1,663.0 L1763.6,664.2 L1767.1,665.3 L1770.6,666.5 L1774.1,667.6 L1777.6,668.8 L1781.1,670.0 L1784.6,671.1 L1788.1,672.3 L1791.6,673.4 L1795.1,674.6 L1798.6,675.7 L1802.1,676.9 L1805.6,678.0 L1809.1,679.2 L1812.6,680.3 L1816.1,681.5 L1819.6,682.6 L1823.1,683.8 L1826.6,684.9 L1830.1,686.1 L1833.6,687.2 L1837.1,688.4 L1840.6,689.5 L1844.1,690.7 L1847.6,691.9 L1851.1,693.0 L1854.5,694.2 L1858.0,695.4 L1861.5,696.5 L1865.0,697.7 L1868.5,698.9 L1871.9,700.1 L1875.4,701.3 L1878.9,702.5 L1882.3,703.7 L1885.8,704.9 L1889.3,706.1 L1892.7,707.3 L1896.2,708.5 L1899.6,709.8 L1903.0,711.0 L1906.5,712.3 L1909.9,713.6 L1913.3,714.9 L1916.7,716.2 L1920.1,717.5 L1923.5,718.9 L1926.9,720.3 L1930.3,721.7 L1933.7,723.2 L1937.0,724.6 L1940.4,726.1 L1943.7,727.7 L1947.0,729.2 L1950.4,730.8 L1953.7,732.4 L1957.0,734.0 L1960.3,735.6 L1963.7,737.1 L1967.0,738.7 L1970.3,740.3 L1973.7,741.8 L1977.0,743.4 L1980.4,744.9 L1983.7,746.4 L1987.1,747.8 L1990.5,749.3 L1993.9,750.7 L1997.3,752.0 L2000.8,753.4 L2004.2,754.8 L2007.6,756.1 L2011.0,757.5 L2014.5,758.8 L2017.9,760.2 L2021.3,761.6 L2024.7,763.0 L2028.1,764.4 L2031.5,765.9 L2034.8,767.3 L2038.2,768.9 L2041.5,770.4 L2044.8,772.0 L2048.1,773.7 L2051.4,775.4 L2054.6,777.2 L2057.8,779.0 L2059.1,780.0 L2060.4,781.1 L2061.6,782.2 L2062.8,783.4 L2064.0,784.6 L2065.0,785.8 L2066.1,787.1 L2067.0,788.4 L2068.0,789.7 L2068.9,791.1 L2069.7,792.5 L2070.5,794.0 L2071.3,795.5 L2072.0,797.0" fill="none" stroke="#DDAD33" stroke-width="3.1"/>
<path d="M1295.6,269.2 L1296.0,272.4 L1296.4,275.7 L1296.8,278.9 L1297.1,282.2 L1297.5,285.5 L1297.9,288.7 L1298.3,292.0 L1298.7,295.3 L1299.1,298.6 L1299.5,301.9 L1300.0,305.2 L1300.4,308.5 L1300.8,311.8 L1301.3,315.1 L1301.7,318.4 L1302.2,321.7 L1302.7,325.0 L1303.2,328.3 L1303.7,331.6 L1304.2,334.9 L1304.8,338.2 L1305.3,341.5 L1305.9,344.8 L1306.5,348.1 L1307.1,351.3 L1307.8,354.6 L1308.4,357.9 L1309.1,361.2 L1309.8,364.4 L1310.5,367.7 L1311.3,370.9 L1312.1,374.1 L1312.9,377.4 L1313.7,380.6 L1314.6,383.8 L1315.5,387.0 L1316.4,390.1 L1317.3,393.3 L1318.3,396.5 L1319.3,399.6 L1320.4,402.7 L1321.5,405.8 L1322.6,408.9 L1323.8,412.0 L1325.0,415.1 L1326.2,418.1 L1327.5,421.1 L1328.8,424.1 L1330.1,427.1 L1331.5,430.1 L1333.0,433.1 L1334.4,436.0 L1336.0,438.9 L1337.5,441.8 L1339.2,444.6 L1340.8,447.5 L1342.5,450.3 L1344.3,453.1 L1346.1,455.9 L1347.9,458.6 L1349.8,461.3 L1351.8,464.0 L1353.8,466.7 L1355.8,469.3 L1357.8,472.0 L1359.9,474.6 L1362.0,477.1 L1364.2,479.7 L1366.4,482.2 L1368.6,484.7 L1370.9,487.1 L1373.1,489.5 L1375.4,492.0 L1377.8,494.3 L1380.1,496.7 L1382.5,499.0 L1384.9,501.3 L1387.3,503.5 L1389.7,505.8 L1392.2,508.0 L1394.7,510.2 L1397.2,512.3 L1399.7,514.4 L1402.3,516.5 L1404.8,518.6 L1407.4,520.6 L1410.0,522.6 L1412.6,524.6 L1415.3,526.6 L1417.9,528.6 L1420.6,530.5 L1423.3,532.4 L1426.0,534.3 L1428.7,536.2 L1431.4,538.1 L1434.1,539.9 L1436.8,541.8 L1439.6,543.6 L1442.3,545.4 L1445.1,547.2 L1447.8,549.1 L1450.6,550.9 L1453.4,552.7 L1456.1,554.5 L1458.9,556.3 L1461.7,558.1 L1464.5,559.8 L1467.3,561.6 L1470.1,563.4 L1472.9,565.1 L1475.7,566.9 L1478.5,568.6 L1481.3,570.4 L1484.1,572.1 L1487.0,573.8 L1489.8,575.5 L1492.7,577.2 L1495.5,578.9 L1498.4,580.6 L1501.3,582.2 L1504.2,583.9 L1507.0,585.5 L1509.9,587.1 L1512.8,588.7 L1515.8,590.3 L1518.7,591.9 L1521.6,593.5 L1524.5,595.1 L1527.5,596.6 L1530.4,598.1 L1533.4,599.7 L1536.3,601.2 L1539.3,602.7 L1542.3,604.2 L1545.2,605.6 L1548.2,607.1 L1551.2,608.5 L1554.2,610.0 L1557.2,611.4 L1560.2,612.8 L1563.2,614.2 L1566.2,615.5 L1569.3,616.9 L1572.3,618.2 L1575.3,619.6 L1578.4,620.9 L1581.4,622.2 L1584.5,623.5 L1587.5,624.8 L1590.6,626.0 L1593.6,627.3 L1596.7,628.5 L1599.8,629.8 L1602.9,631.0 L1605.9,632.2 L1609.0,633.4 L1612.1,634.6 L1615.2,635.8 L1618.3,636.9 L1621.4,638.1 L1624.5,639.3 L1627.6,640.4 L1630.7,641.5 L1633.8,642.7 L1637.0,643.8 L1640.1,644.9 L1643.2,646.0 L1646.3,647.2 L1649.4,648.3 L1652.6,649.4 L1655.7,650.4 L1658.8,651.5 L1662.0,652.6 L1665.1,653.7 L1668.2,654.8 L1671.4,655.8 L1674.5,656.9 L1677.7,658.0 L1680.8,659.1 L1683.9,660.1 L1687.1,661.2 L1690.2,662.3 L1693.4,663.3 L1696.5,664.4 L1699.7,665.4 L1702.8,666.5 L1705.9,667.6 L1709.1,668.6 L1712.2,669.7 L1715.4,670.7 L1718.5,671.8 L1721.7,672.8 L1724.8,673.8 L1728.0,674.9 L1731.2,675.9 L1734.3,676.9 L1737.5,677.9 L1740.6,678.9 L1743.8,679.9 L1747.0,680.9 L1750.1,681.9 L1753.3,682.9 L1756.5,683.8 L1759.6,684.8 L1762.8,685.8 L1766.0,686.7 L1769.2,687.6 L1772.4,688.6 L1775.6,689.5 L1778.7,690.4 L1781.9,691.3 L1785.1,692.1 L1788.3,693.0 L1791.5,693.9 L1794.7,694.7 L1797.9,695.6 L1801.1,696.4 L1804.3,697.3 L1807.6,698.1 L1810.8,699.0 L1814.0,699.8 L1817.2,700.6 L1820.4,701.4 L1823.6,702.2 L1826.8,703.1 L1830.0,703.9 L1833.2,704.7 L1836.5,705.5 L1839.7,706.3 L1842.9,707.1 L1846.1,707.9 L1849.3,708.7 L1852.5,709.6 L1855.7,710.4 L1859.0,711.2 L1862.2,712.0 L1865.4,712.8 L1868.6,713.7 L1871.8,714.5 L1875.0,715.4 L1878.2,716.2 L1881.4,717.1 L1884.6,717.9 L1887.8,718.8 L1891.0,719.6 L1894.2,720.5 L1897.4,721.4 L1900.6,722.3 L1903.8,723.2 L1906.9,724.1 L1910.1,725.1 L1913.3,726.0 L1916.5,727.0 L1919.7,727.9 L1922.8,728.9 L1926.0,729.9 L1929.2,730.9 L1932.3,731.9 L1935.5,732.9 L1938.6,733.9 L1941.8,735.0 L1944.9,736.0 L1948.1,737.0 L1951.2,738.1 L1954.4,739.2 L1957.5,740.3 L1960.6,741.4 L1963.7,742.5 L1966.9,743.6 L1970.0,744.7 L1973.1,745.8 L1976.2,747.0 L1979.3,748.1 L1982.5,749.3 L1985.6,750.4 L1988.7,751.6 L1991.8,752.8 L1994.9,754.0 L1998.0,755.2 L2001.0,756.4 L2004.1,757.6 L2007.2,758.8 L2010.3,760.0 L2013.4,761.3 L2016.4,762.6 L2019.5,763.9 L2022.5,765.2 L2025.5,766.5 L2028.6,767.9 L2031.6,769.3 L2034.5,770.7 L2037.5,772.1 L2040.5,773.6 L2043.4,775.2 L2046.3,776.7 L2049.2,778.3 L2052.1,780.0 L2055.0,781.7 L2057.8,783.4 L2059.3,784.3 L2060.7,785.2 L2062.0,786.1 L2063.3,787.1 L2064.6,788.2 L2065.8,789.3 L2066.9,790.4 L2068.0,791.6 L2069.1,792.9 L2070.1,794.2 L2071.1,795.6 L2072.0,797.0" fill="none" stroke="#A6792D" stroke-width="3.1"/>
<rect x="1288.4" y="90.4" width="793.4" height="708.6" fill="none" stroke="#000" stroke-width="2.3"/>
<line x1="1283.7" y1="91.9" x2="1288.4" y2="91.9" stroke="#333" stroke-width="2.7"/>
<text x="1218.22" y="101.55" font-size="24.60" fill="#4D4D4D">120k</text>
<line x1="1283.7" y1="267.8" x2="1288.4" y2="267.8" stroke="#333" stroke-width="2.7"/>
<text x="1233.39" y="273.25" font-size="24.60" fill="#4D4D4D">90k</text>
<line x1="1283.7" y1="445.0" x2="1288.4" y2="445.0" stroke="#333" stroke-width="2.7"/>
<text x="1233.59" y="450.45" font-size="24.60" fill="#4D4D4D">60k</text>
<line x1="1283.7" y1="622.2" x2="1288.4" y2="622.2" stroke="#333" stroke-width="2.7"/>
<text x="1233.59" y="627.65" font-size="24.60" fill="#4D4D4D">30k</text>
<line x1="1283.7" y1="798.0" x2="1288.4" y2="798.0" stroke="#333" stroke-width="2.7"/>
<text x="1255.83" y="804.35" font-size="24.60" fill="#4D4D4D">0</text>
<line x1="1290.1" y1="799" x2="1290.1" y2="803.9" stroke="#333" stroke-width="2.7"/>
<text x="1284.29" y="832.00" font-size="24.90" fill="#4D4D4D">0</text>
<line x1="1485.0" y1="799" x2="1485.0" y2="803.9" stroke="#333" stroke-width="2.7"/>
<text x="1471.66" y="832.00" font-size="24.90" fill="#4D4D4D">25</text>
<line x1="1681.2" y1="799" x2="1681.2" y2="803.9" stroke="#333" stroke-width="2.7"/>
<text x="1668.23" y="832.00" font-size="24.90" fill="#4D4D4D">50</text>
<line x1="1877.4" y1="799" x2="1877.4" y2="803.9" stroke="#333" stroke-width="2.7"/>
<text x="1864.31" y="832.00" font-size="24.90" fill="#4D4D4D">75</text>
<line x1="2074.0" y1="799" x2="2074.0" y2="803.9" stroke="#333" stroke-width="2.7"/>
<text x="2054.59" y="832.00" font-size="24.90" fill="#4D4D4D">100</text>
<text x="1549.44" y="873.30" font-size="29.30" fill="#111">Cumulative Size (%)</text>
<text transform="translate(1218.3,532.24) rotate(-90)" font-size="29.2" fill="#111">Read Length</text>
<rect x="1834.7" y="127.4" width="220.6" height="200.7" fill="#fff" stroke="#333" stroke-width="1.1"/>
<text x="1846.16" y="155.00" font-size="24.70" font-weight="bold" fill="#111">Sample</text>
<text x="1962.22" y="155.00" font-size="24.30" font-weight="bold" fill="#111">Data</text>
<line x1="1848.9" y1="180.0" x2="1874.6" y2="180.0" stroke="#3FA67F" stroke-width="4.7"/>
<text x="1887.67" y="185.90" font-size="20.40" fill="#111">HG001</text>
<line x1="1848.9" y1="201.6" x2="1874.6" y2="201.6" stroke="#D8622A" stroke-width="4.7"/>
<text x="1887.67" y="207.50" font-size="20.40" fill="#111">HG002</text>
<line x1="1848.9" y1="223.2" x2="1874.6" y2="223.2" stroke="#7570B3" stroke-width="4.7"/>
<text x="1887.67" y="229.10" font-size="20.40" fill="#111">HG003</text>
<line x1="1848.9" y1="244.8" x2="1874.6" y2="244.8" stroke="#E3358B" stroke-width="4.7"/>
<text x="1887.67" y="250.70" font-size="20.40" fill="#111">HG004</text>
<line x1="1848.9" y1="266.4" x2="1874.6" y2="266.4" stroke="#68A83C" stroke-width="4.7"/>
<text x="1887.67" y="272.30" font-size="20.40" fill="#111">HG005</text>
<line x1="1848.9" y1="288.0" x2="1874.6" y2="288.0" stroke="#DDAD33" stroke-width="4.7"/>
<text x="1887.67" y="293.90" font-size="20.40" fill="#111">HG006</text>
<line x1="1848.9" y1="309.6" x2="1874.6" y2="309.6" stroke="#A6792D" stroke-width="4.7"/>
<text x="1887.67" y="315.50" font-size="20.40" fill="#111">HG007</text>
<line x1="1965.3" y1="180.0" x2="1991" y2="180.0" stroke="#111" stroke-width="3.7" stroke-dasharray="8.4 8.9"/>
<text x="2004.03" y="185.50" font-size="20.90" fill="#111">HiFi</text>
<line x1="1965.3" y1="205.3" x2="1991" y2="205.3" stroke="#111" stroke-width="3.7"/>
<text x="2004.27" y="211.00" font-size="20.60" fill="#111">ONT</text>
</svg>
</body></html>
